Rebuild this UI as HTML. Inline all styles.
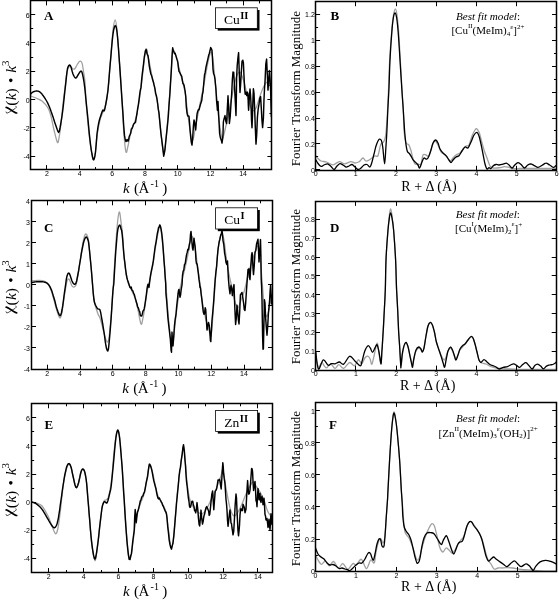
<!DOCTYPE html>
<html><head><meta charset="utf-8"><style>
html,body{margin:0;padding:0;background:#fff;}
svg{display:block;filter:grayscale(100%);}
</style></head><body>
<svg width="559" height="600" viewBox="0 0 559 600">
<rect width="559" height="600" fill="#fff"/>
<defs>
<clipPath id="cA"><rect x="30.7" y="0.9" width="241.20" height="168.70"/></clipPath>
<clipPath id="cC"><rect x="31.5" y="200.8" width="241.00" height="168.40"/></clipPath>
<clipPath id="cE"><rect x="31.65" y="403.8" width="241.25" height="168.70"/></clipPath>
<clipPath id="cB"><rect x="315.6" y="1.7" width="240.90" height="168.60"/></clipPath>
<clipPath id="cD"><rect x="315.5" y="201.4" width="240.70" height="168.70"/></clipPath>
<clipPath id="cF"><rect x="315.4" y="402.4" width="241.30" height="169.05"/></clipPath>
</defs>
<g clip-path="url(#cA)">
<path d="M30.7,96.0 C31.6,96.3 34.1,97.2 36.0,98.0 C37.9,98.8 40.0,99.3 42.0,101.0 C44.0,102.7 46.5,105.5 48.0,108.0 C49.5,110.5 50.0,112.3 51.0,116.0 C52.0,119.7 52.9,125.6 54.0,130.0 C55.1,134.4 56.6,141.1 57.4,142.4 C58.2,143.7 58.4,141.1 59.0,138.0 C59.6,134.9 60.3,129.7 61.0,124.0 C61.7,118.3 62.3,110.0 63.0,104.0 C63.7,98.0 64.3,93.3 65.0,88.0 C65.7,82.7 66.2,75.7 67.0,72.0 C67.8,68.3 68.8,66.8 69.5,66.0 C70.2,65.2 70.9,67.0 71.5,67.5 C72.1,68.0 72.6,68.8 73.2,69.0 C73.8,69.2 74.4,69.2 75.0,68.5 C75.6,67.8 76.3,66.1 77.0,65.0 C77.7,63.9 78.5,62.4 79.0,61.8 C79.5,61.2 79.9,61.2 80.3,61.2 C80.7,61.2 81.1,61.4 81.5,62.0 C81.9,62.6 82.2,63.4 82.5,65.0 C82.8,66.6 83.1,68.7 83.5,71.5 C83.9,74.3 84.6,77.2 85.0,82.0 C85.4,86.8 85.5,93.0 86.0,100.0 C86.5,107.0 87.3,117.0 88.0,124.0 C88.7,131.0 89.3,136.8 90.0,142.0 C90.7,147.2 91.4,152.0 92.0,155.0 C92.6,158.0 93.1,160.5 93.7,160.0 C94.3,159.5 95.0,156.0 95.5,152.0 C96.0,148.0 96.2,141.3 97.0,136.0 C97.8,130.7 99.0,124.0 100.0,120.0 C101.0,116.0 102.0,114.7 103.0,112.0 C104.0,109.3 105.2,107.7 106.0,104.0 C106.8,100.3 107.2,98.2 108.0,90.0 C108.8,81.8 110.2,65.0 111.0,55.0 C111.8,45.0 112.3,35.8 113.0,30.0 C113.7,24.2 114.5,20.0 115.2,20.0 C115.9,20.0 116.4,24.0 117.0,30.0 C117.6,36.0 118.2,44.3 119.0,56.0 C119.8,67.7 121.2,86.8 122.0,100.0 C122.8,113.2 123.3,126.3 124.0,135.0 C124.7,143.7 125.3,150.2 126.0,152.0 C126.7,153.8 127.3,148.7 128.0,146.0 C128.7,143.3 129.2,139.3 130.0,136.0 C130.8,132.7 132.0,129.0 133.0,126.0 C134.0,123.0 135.0,122.0 136.0,118.0 C137.0,114.0 138.0,108.3 139.0,102.0 C140.0,95.7 140.9,88.7 142.0,80.0 C143.1,71.3 144.6,54.0 145.6,50.0 C146.6,46.0 146.9,51.7 148.0,56.0 C149.1,60.3 150.7,69.7 152.0,76.0 C153.3,82.3 154.8,87.7 156.0,94.0 C157.2,100.3 158.2,107.3 159.0,114.0 C159.8,120.7 160.2,127.3 161.0,134.0 C161.8,140.7 163.0,151.7 163.7,154.0 C164.4,156.3 164.4,152.3 165.0,148.0 C165.6,143.7 166.3,135.3 167.0,128.0 C167.7,120.7 168.2,115.3 169.0,104.0 C169.8,92.7 171.3,69.0 172.0,60.0 C172.7,51.0 172.3,50.7 173.0,50.0 C173.7,49.3 174.8,52.3 176.0,56.0 C177.2,59.7 178.5,66.0 180.0,72.0 C181.5,78.0 183.7,84.7 185.0,92.0 C186.3,99.3 187.0,108.7 188.0,116.0 C189.0,123.3 190.2,132.0 191.0,136.0 C191.8,140.0 192.2,142.0 193.0,140.0 C193.8,138.0 194.8,130.0 196.0,124.0 C197.2,118.0 198.7,110.7 200.0,104.0 C201.3,97.3 202.7,91.0 204.0,84.0 C205.3,77.0 206.8,67.3 208.0,62.0 C209.2,56.7 210.2,52.3 211.0,52.0 C211.8,51.7 212.2,53.7 213.0,60.0 C213.8,66.3 215.0,80.0 216.0,90.0 C217.0,100.0 218.0,112.0 219.0,120.0 C220.0,128.0 221.2,135.7 222.0,138.0 C222.8,140.3 223.0,137.7 224.0,134.0 C225.0,130.3 226.7,122.3 228.0,116.0 C229.3,109.7 230.7,102.3 232.0,96.0 C233.3,89.7 234.7,82.0 236.0,78.0 C237.3,74.0 238.7,71.3 240.0,72.0 C241.3,72.7 242.7,77.7 244.0,82.0 C245.3,86.3 246.7,93.3 248.0,98.0 C249.3,102.7 250.7,108.3 252.0,110.0 C253.3,111.7 254.7,110.3 256.0,108.0 C257.3,105.7 258.7,99.7 260.0,96.0 C261.3,92.3 262.7,88.3 264.0,86.0 C265.3,83.7 266.7,81.7 268.0,82.0 C269.3,82.3 271.3,87.0 272.0,88.0" fill="none" stroke="#a0a0a0" stroke-width="1.3" stroke-linejoin="round" stroke-linecap="round"/>
<polyline points="30.7,94.0 31.2,93.4 32.0,92.7 33.0,92.0 33.7,91.7 34.5,91.4 35.3,91.1 36.2,91.0 37.0,91.0 37.8,91.1 38.6,91.3 39.3,91.7 40.1,92.2 41.0,93.0 41.7,93.7 42.4,94.7 43.2,95.7 43.9,96.8 44.7,97.9 45.4,99.0 46.0,100.0 46.9,101.5 47.6,102.9 48.3,104.4 49.0,106.0 49.8,107.9 50.6,110.0 51.3,112.1 52.0,114.0 52.7,116.1 53.4,118.1 54.0,120.0 54.6,122.0 55.3,124.0 56.0,126.0 56.6,127.8 57.3,129.8 58.0,131.6 58.6,132.4 59.3,131.4 60.0,128.0 60.6,124.6 61.3,120.3 62.0,116.0 62.8,110.1 63.5,104.0 64.2,97.4 65.0,90.0 65.7,83.8 66.4,77.2 67.0,72.0 67.5,68.5 68.0,67.0 68.7,65.6 69.5,65.0 70.2,65.4 71.0,67.0 71.6,69.1 72.3,71.7 73.0,74.0 73.6,75.4 74.3,76.6 75.0,77.6 75.7,78.0 76.5,77.6 77.2,76.3 78.0,75.0 78.7,73.9 79.5,72.6 80.3,71.5 81.0,71.0 81.8,71.8 82.5,74.0 83.2,77.4 84.0,82.0 84.8,88.1 85.5,95.0 86.2,102.4 87.0,110.0 87.8,117.5 88.5,125.0 89.2,132.6 90.0,140.0 90.6,145.0 91.3,150.0 92.0,154.0 92.6,157.0 93.1,159.2 93.7,159.8 94.3,158.6 94.9,155.9 95.5,152.0 96.3,143.1 97.0,134.0 97.8,128.2 98.5,124.0 99.2,120.8 100.0,118.0 100.7,115.9 101.4,113.7 102.0,112.0 102.6,110.6 103.0,110.0 103.5,110.6 104.0,111.0 104.5,110.1 105.0,108.0 105.7,104.4 106.5,100.0 107.2,95.6 108.0,90.0 108.8,81.4 109.5,72.0 110.2,63.7 111.0,55.0 111.6,47.8 112.3,40.2 113.0,34.0 113.7,29.7 114.5,26.8 115.2,25.6 115.8,26.0 116.4,28.0 117.0,32.0 117.7,38.8 118.4,47.5 119.0,56.0 119.8,67.1 120.5,77.6 121.3,89.7 122.0,100.4 122.5,107.4 123.0,114.3 123.5,122.8 124.0,129.5 124.5,135.4 125.0,138.2 125.5,140.5 126.0,141.6 126.5,141.0 127.0,139.5 127.4,140.1 128.0,141.3 128.6,139.6 129.3,136.2 130.0,134.8 130.7,133.0 131.3,129.1 132.0,128.4 132.7,126.8 133.4,124.6 134.0,123.7 134.8,122.9 135.5,122.3 136.2,117.8 137.0,113.5 137.6,108.9 138.3,105.1 139.0,100.1 139.7,94.4 140.3,90.2 141.0,87.4 141.6,80.4 142.3,73.7 143.0,68.3 143.6,63.3 144.3,57.0 145.0,53.4 145.6,50.1 146.4,49.7 147.0,53.6 147.5,54.8 148.0,55.7 148.6,60.2 149.3,66.1 150.0,69.9 150.7,73.4 151.3,74.9 152.0,77.1 152.7,80.1 153.4,82.0 154.0,84.7 154.5,86.6 155.0,89.2 155.6,93.4 156.3,95.5 157.0,98.9 157.7,104.0 158.3,109.2 159.0,113.1 159.7,120.8 160.4,127.9 161.0,134.0 161.8,140.1 162.5,145.8 163.1,150.9 163.7,156.2 164.3,153.1 165.0,149.3 165.6,143.0 166.3,136.3 167.0,129.7 167.7,123.0 168.4,115.1 169.0,105.3 169.8,95.2 170.5,83.8 171.3,71.0 172.0,56.7 172.4,51.0 172.7,47.8 173.3,50.7 174.0,52.2 174.6,53.7 175.1,53.2 175.7,55.1 176.4,57.4 177.0,59.5 177.5,60.5 178.0,63.9 178.4,67.7 179.0,71.3 179.6,72.2 180.3,73.6 181.0,75.2 181.7,76.2 182.3,80.0 183.0,83.7 183.7,84.2 184.3,86.5 185.0,90.5 185.7,95.8 186.3,106.6 187.0,113.0 187.7,115.9 188.4,115.9 189.0,116.4 189.5,122.1 190.0,129.3 190.6,136.0 191.3,142.3 192.0,145.1 192.7,137.6 193.4,126.0 194.0,120.0 194.6,122.3 195.2,127.3 195.7,129.9 196.3,122.5 197.0,114.4 197.6,111.7 198.3,109.7 199.0,109.8 199.7,107.3 200.3,104.9 201.0,102.7 201.7,100.8 202.4,94.7 203.0,92.2 203.8,82.7 204.5,75.0 205.2,72.2 206.0,67.2 206.6,64.4 207.3,61.3 208.0,58.3 208.7,55.2 209.3,53.4 210.0,50.8 210.7,47.5 211.4,48.8 212.0,50.6 212.5,58.8 213.0,69.1 213.6,73.7 214.3,75.3 215.0,79.2 215.9,88.8 216.6,101.0 217.1,106.2 217.4,110.3 217.7,106.5 218.0,101.4 218.4,110.6 219.0,121.3 219.6,133.3 220.4,137.8 221.0,139.4 221.6,141.3 222.0,143.1 222.5,139.7 223.0,134.4 223.2,126.7 223.4,121.7 224.1,118.6 225.0,115.6 225.8,121.2 226.6,123.6 227.3,109.1 228.0,95.7 228.7,108.8 229.4,123.5 230.2,116.7 231.0,103.6 231.7,93.3 232.4,79.1 233.0,72.1 233.7,72.3 234.4,84.3 235.2,99.7 236.0,115.6 236.3,100.7 236.6,78.1 237.2,65.5 237.9,58.2 238.6,52.6 239.3,73.6 240.0,92.5 240.6,84.8 241.4,71.0 242.0,61.5 242.8,60.2 243.4,62.9 244.0,76.1 244.6,88.2 245.2,94.2 246.0,92.1 246.7,95.6 247.4,92.1 248.0,94.0 248.3,104.8 248.6,110.3 249.3,98.1 250.0,88.9 250.5,94.8 251.0,103.8 251.5,120.0 252.0,127.7 252.5,115.1 253.0,97.9 253.4,88.8 254.0,93.0 254.6,107.6 255.3,127.5 256.0,144.1 256.7,134.6 257.4,117.4 258.2,108.8 259.0,104.3 259.8,98.4 260.6,96.6 261.3,108.2 262.0,120.8 262.6,127.6 263.4,118.3 264.0,99.2 264.5,88.8 265.0,82.1 265.8,64.2 266.6,59.1 267.3,74.0 268.0,90.1 268.7,80.5 269.4,70.6 270.0,78.2 270.6,89.6 271.0,104.8 271.4,116.8 271.8,115.8 272.0,108.8" fill="none" stroke="#000" stroke-width="1.45" stroke-linejoin="round" stroke-linecap="round"/>
</g>
<g clip-path="url(#cB)">
<path d="M315.8,156.0 C316.2,156.4 317.1,157.7 318.0,158.5 C318.9,159.3 319.6,160.4 321.0,161.0 C322.4,161.6 324.5,161.4 326.5,162.0 C328.5,162.6 330.9,164.9 333.0,164.8 C335.1,164.7 337.4,161.8 339.3,161.6 C341.2,161.4 342.8,163.8 344.7,163.8 C346.6,163.8 349.3,161.7 351.0,161.6 C352.7,161.5 353.7,162.9 355.0,163.0 C356.3,163.1 357.8,162.3 358.6,162.0 C359.4,161.7 359.3,161.7 360.0,161.0 C360.7,160.3 362.0,158.0 363.0,158.0 C364.0,158.0 365.0,160.7 366.0,161.0 C367.0,161.3 368.0,160.5 369.0,160.0 C370.0,159.5 371.0,158.7 372.0,158.0 C373.0,157.3 374.0,156.4 375.0,156.0 C376.0,155.6 377.1,157.5 378.0,155.6 C378.9,153.7 379.8,146.9 380.7,144.6 C381.6,142.3 382.7,143.4 383.5,142.0 C384.3,140.6 384.9,140.1 385.5,136.4 C386.1,132.7 386.5,127.7 387.0,120.0 C387.5,112.3 388.1,100.0 388.5,90.0 C388.9,80.0 389.1,70.0 389.7,60.0 C390.2,50.0 391.2,37.5 391.8,30.0 C392.4,22.5 392.9,18.5 393.5,15.0 C394.1,11.5 394.8,9.0 395.4,9.0 C396.0,9.0 396.5,11.5 397.0,15.0 C397.5,18.5 397.9,22.5 398.5,30.0 C399.1,37.5 399.7,50.0 400.3,60.0 C400.9,70.0 401.5,81.7 402.0,90.0 C402.5,98.3 403.0,103.3 403.3,110.0 C403.6,116.7 403.6,124.6 404.0,130.0 C404.4,135.4 405.2,140.2 406.0,142.6 C406.8,145.0 407.9,143.4 408.7,144.6 C409.5,145.8 410.1,147.8 410.8,150.0 C411.5,152.2 412.1,155.7 412.8,158.0 C413.5,160.3 414.0,162.8 414.9,163.8 C415.8,164.8 417.0,164.0 418.0,164.0 C419.0,164.0 420.2,165.5 421.0,164.0 C421.8,162.5 422.2,156.5 423.0,155.0 C423.8,153.5 425.0,154.8 426.0,155.0 C427.0,155.2 428.0,157.5 429.0,156.0 C430.0,154.5 431.0,148.5 432.0,146.0 C433.0,143.5 434.0,141.2 435.0,141.0 C436.0,140.8 437.0,143.2 438.0,145.0 C439.0,146.8 440.0,150.5 441.0,152.0 C442.0,153.5 443.0,153.2 444.0,154.0 C445.0,154.8 446.0,155.8 447.0,157.0 C448.0,158.2 449.0,160.8 450.0,161.0 C451.0,161.2 452.0,159.0 453.0,158.0 C454.0,157.0 454.8,155.8 456.0,155.0 C457.2,154.2 458.8,154.0 460.0,153.0 C461.2,152.0 462.0,150.2 463.0,149.0 C464.0,147.8 465.0,146.7 466.0,146.0 C467.0,145.3 468.0,146.7 469.0,145.0 C470.0,143.3 471.0,138.5 472.0,136.0 C473.0,133.5 474.2,131.2 475.0,130.0 C475.8,128.8 475.8,128.3 476.5,128.6 C477.2,128.9 478.2,130.3 479.0,132.0 C479.8,133.7 480.2,136.0 481.0,139.0 C481.8,142.0 483.0,146.8 484.0,150.0 C485.0,153.2 486.0,155.3 487.0,158.0 C488.0,160.7 489.0,164.3 490.0,166.0 C491.0,167.7 491.3,167.7 493.0,168.0 C494.7,168.3 498.1,167.9 500.0,167.7 C501.9,167.5 502.8,166.7 504.2,166.6 C505.6,166.5 507.1,166.9 508.4,167.2 C509.7,167.5 510.1,168.3 512.0,168.5 C513.9,168.7 517.0,168.5 520.0,168.5 C523.0,168.5 526.7,168.5 530.0,168.5 C533.3,168.5 535.5,168.5 540.0,168.5 C544.5,168.5 554.2,168.5 557.0,168.5" fill="none" stroke="#a0a0a0" stroke-width="1.3" stroke-linejoin="round" stroke-linecap="round"/>
<path d="M316.0,160.0 C316.3,160.6 317.2,162.4 318.0,163.5 C318.8,164.6 320.0,166.2 321.0,166.4 C322.0,166.7 322.9,165.4 324.0,165.0 C325.1,164.6 326.3,163.6 327.5,163.8 C328.7,164.1 329.9,165.6 331.0,166.5 C332.1,167.4 333.0,169.6 334.0,169.5 C335.0,169.4 336.0,167.0 337.0,166.0 C338.0,165.0 339.0,163.9 340.0,163.7 C341.0,163.5 342.0,164.4 343.0,165.0 C344.0,165.6 345.0,166.8 346.0,167.0 C347.0,167.2 348.0,166.4 349.0,166.0 C350.0,165.6 351.0,164.3 352.0,164.5 C353.0,164.7 354.0,166.2 355.0,167.0 C356.0,167.8 357.0,169.3 358.0,169.5 C359.0,169.7 360.0,168.8 361.0,168.0 C362.0,167.2 363.0,165.6 364.0,165.0 C365.0,164.4 366.0,164.2 367.0,164.5 C368.0,164.8 369.2,167.4 370.0,167.0 C370.8,166.6 371.3,164.2 372.0,162.0 C372.7,159.8 373.3,156.7 374.0,154.0 C374.7,151.3 375.3,148.2 376.0,146.0 C376.7,143.8 377.4,142.1 378.0,141.0 C378.6,139.9 378.8,139.3 379.4,139.2 C380.0,139.1 380.8,139.1 381.4,140.5 C382.0,141.9 382.3,143.5 382.8,147.4 C383.3,151.3 384.1,163.8 384.6,163.8 C385.1,163.8 385.5,152.9 385.9,147.4 C386.3,141.9 386.6,137.2 386.9,131.0 C387.2,124.8 387.5,117.3 387.8,110.5 C388.1,103.7 388.5,98.4 388.9,90.0 C389.3,81.6 389.5,70.0 390.0,60.0 C390.5,50.0 391.4,37.2 392.0,30.0 C392.6,22.8 393.0,19.8 393.5,17.0 C394.0,14.2 394.5,13.0 395.0,13.0 C395.5,13.0 396.0,14.2 396.5,17.0 C397.0,19.8 397.4,22.8 398.0,30.0 C398.6,37.2 399.4,50.0 400.0,60.0 C400.6,70.0 401.3,81.6 401.9,90.0 C402.4,98.4 402.9,103.7 403.3,110.5 C403.8,117.3 404.2,125.3 404.6,131.0 C405.1,136.7 405.5,141.2 406.0,144.6 C406.5,148.0 406.8,150.0 407.4,151.5 C408.0,153.0 408.7,152.6 409.4,153.5 C410.1,154.4 410.8,155.8 411.5,157.0 C412.2,158.2 412.7,159.4 413.5,160.4 C414.3,161.4 415.6,162.2 416.3,163.0 C417.1,163.8 417.4,164.2 418.0,165.0 C418.6,165.8 418.9,168.5 419.6,168.0 C420.3,167.5 421.3,163.7 422.0,162.0 C422.7,160.3 423.3,158.5 424.0,158.0 C424.7,157.5 425.3,159.0 426.0,159.0 C426.7,159.0 427.2,159.5 428.0,158.0 C428.8,156.5 430.2,152.5 431.0,150.0 C431.8,147.5 432.2,144.7 433.0,143.0 C433.8,141.3 434.8,140.0 435.6,140.0 C436.4,140.0 437.3,141.5 438.0,143.0 C438.7,144.5 439.2,147.3 440.0,149.0 C440.8,150.7 442.0,151.9 443.0,153.0 C444.0,154.1 445.0,154.5 446.0,155.7 C447.0,156.9 448.2,158.9 449.0,160.0 C449.8,161.1 450.3,162.5 451.0,162.5 C451.7,162.5 452.2,160.9 453.0,160.0 C453.8,159.1 455.0,157.7 456.0,157.0 C457.0,156.3 458.0,156.7 459.0,155.7 C460.0,154.7 461.0,152.4 462.0,151.0 C463.0,149.6 464.0,147.5 465.0,147.0 C466.0,146.5 467.0,148.8 468.0,148.0 C469.0,147.2 470.0,144.2 471.0,142.0 C472.0,139.8 473.0,136.6 474.0,135.0 C475.0,133.4 476.2,132.2 477.0,132.4 C477.8,132.6 478.3,134.1 479.0,136.0 C479.7,137.9 480.3,141.0 481.0,144.0 C481.7,147.0 482.3,150.7 483.0,154.0 C483.7,157.3 484.3,161.5 485.0,164.0 C485.7,166.5 486.3,168.4 487.0,169.0 C487.7,169.6 488.3,167.8 489.0,167.7 C489.7,167.6 490.3,168.8 491.0,168.5 C491.7,168.2 492.2,166.7 493.0,166.0 C493.8,165.3 495.0,164.7 496.0,164.5 C497.0,164.3 497.8,165.1 499.0,165.0 C500.2,164.9 502.0,164.5 503.2,164.2 C504.4,163.9 505.3,163.1 506.3,163.2 C507.3,163.3 508.0,164.2 509.0,165.0 C510.0,165.8 511.1,168.0 512.1,168.0 C513.1,168.0 513.8,165.9 514.8,165.0 C515.8,164.1 517.0,162.8 518.0,162.7 C519.0,162.6 520.1,163.6 521.1,164.5 C522.1,165.4 523.2,167.9 524.3,168.0 C525.4,168.1 526.5,166.0 527.5,165.3 C528.5,164.6 529.5,163.8 530.6,163.8 C531.7,163.9 533.1,165.0 534.3,165.6 C535.5,166.2 536.7,167.4 538.0,167.4 C539.3,167.4 540.9,166.0 542.2,165.3 C543.5,164.6 544.7,163.2 545.9,163.2 C547.1,163.1 548.4,164.3 549.6,165.0 C550.8,165.7 552.3,167.2 553.3,167.4 C554.3,167.6 554.8,166.5 555.4,166.1 C556.0,165.7 556.7,165.2 557.0,165.0" fill="none" stroke="#000" stroke-width="1.3" stroke-linejoin="round" stroke-linecap="round"/>
</g>
<g clip-path="url(#cC)">
<path d="M31.2,281.0 C32.3,280.9 35.9,280.5 38.0,280.5 C40.1,280.5 42.3,280.4 44.0,281.0 C45.7,281.6 46.8,282.5 48.0,284.0 C49.2,285.5 50.0,287.3 51.0,290.0 C52.0,292.7 53.0,296.5 54.0,300.0 C55.0,303.5 56.0,308.0 57.0,311.0 C58.0,314.0 59.2,317.8 60.0,318.0 C60.8,318.2 61.3,315.3 62.0,312.0 C62.7,308.7 63.4,302.0 64.0,298.0 C64.6,294.0 65.2,290.8 65.7,288.0 C66.2,285.2 66.5,282.5 67.0,281.0 C67.5,279.5 68.2,279.0 68.7,279.0 C69.2,279.0 69.5,279.8 70.0,281.0 C70.5,282.2 71.3,285.0 72.0,286.0 C72.7,287.0 73.3,287.2 74.0,287.0 C74.7,286.8 75.3,287.0 76.0,285.0 C76.7,283.0 77.3,278.8 78.0,275.0 C78.7,271.2 79.3,266.5 80.0,262.0 C80.7,257.5 81.3,252.0 82.0,248.0 C82.7,244.0 83.4,240.3 84.0,238.0 C84.6,235.7 85.0,234.0 85.7,234.0 C86.4,234.0 87.5,236.2 88.0,238.0 C88.5,239.8 88.5,240.3 89.0,245.0 C89.5,249.7 90.4,259.5 91.0,266.0 C91.6,272.5 92.0,278.3 92.5,284.0 C93.0,289.7 93.4,296.0 94.0,300.0 C94.6,304.0 95.3,305.7 96.0,308.0 C96.7,310.3 97.3,312.3 98.0,314.0 C98.7,315.7 99.3,316.2 100.0,318.0 C100.7,319.8 101.3,322.5 102.0,325.0 C102.7,327.5 103.3,330.5 104.0,333.0 C104.7,335.5 105.4,338.5 106.0,340.0 C106.6,341.5 107.0,342.3 107.5,342.0 C108.0,341.7 108.4,342.0 109.0,338.0 C109.6,334.0 110.3,326.0 111.0,318.0 C111.7,310.0 112.3,300.0 113.0,290.0 C113.7,280.0 114.3,268.3 115.0,258.0 C115.7,247.7 116.3,235.7 117.0,228.0 C117.7,220.3 118.5,213.0 119.2,212.0 C119.9,211.0 120.5,218.3 121.0,222.0 C121.5,225.7 122.0,228.0 122.5,234.0 C123.0,240.0 123.6,251.3 124.2,258.0 C124.8,264.7 125.5,269.8 126.2,274.0 C126.9,278.2 127.4,280.5 128.2,283.0 C129.0,285.5 129.9,286.5 131.0,289.0 C132.1,291.5 133.8,294.5 135.0,298.0 C136.2,301.5 137.0,305.7 138.0,310.0 C139.0,314.3 140.2,322.7 141.0,324.0 C141.8,325.3 142.3,321.0 143.0,318.0 C143.7,315.0 144.3,310.3 145.0,306.0 C145.7,301.7 146.2,296.5 147.0,292.0 C147.8,287.5 149.0,283.7 150.0,279.0 C151.0,274.3 152.0,269.8 153.0,264.0 C154.0,258.2 154.9,250.3 156.0,244.0 C157.1,237.7 158.9,228.3 159.7,226.0 C160.5,223.7 160.4,226.3 161.0,230.0 C161.6,233.7 162.3,241.0 163.0,248.0 C163.7,255.0 164.3,263.3 165.0,272.0 C165.7,280.7 166.3,291.3 167.0,300.0 C167.7,308.7 168.3,317.0 169.0,324.0 C169.7,331.0 170.4,338.7 171.0,342.0 C171.6,345.3 172.0,345.3 172.5,344.0 C173.0,342.7 173.4,338.7 174.0,334.0 C174.6,329.3 175.2,322.7 176.0,316.0 C176.8,309.3 178.0,300.0 179.0,294.0 C180.0,288.0 181.0,284.3 182.0,280.0 C183.0,275.7 184.0,272.3 185.0,268.0 C186.0,263.7 187.0,259.0 188.0,254.0 C189.0,249.0 190.2,240.7 191.0,238.0 C191.8,235.3 192.3,236.3 193.0,238.0 C193.7,239.7 194.3,244.0 195.0,248.0 C195.7,252.0 196.2,256.0 197.0,262.0 C197.8,268.0 199.0,276.7 200.0,284.0 C201.0,291.3 202.0,300.0 203.0,306.0 C204.0,312.0 205.0,316.0 206.0,320.0 C207.0,324.0 208.2,327.3 209.0,330.0 C209.8,332.7 210.3,336.3 210.8,336.0 C211.3,335.7 211.5,334.0 212.0,328.0 C212.5,322.0 213.3,309.3 214.0,300.0 C214.7,290.7 215.3,280.3 216.0,272.0 C216.7,263.7 217.3,255.7 218.0,250.0 C218.7,244.3 219.3,240.7 220.0,238.0 C220.7,235.3 221.3,233.7 222.0,234.0 C222.7,234.3 223.3,236.3 224.0,240.0 C224.7,243.7 225.2,250.3 226.0,256.0 C226.8,261.7 228.0,268.7 229.0,274.0 C230.0,279.3 231.0,283.3 232.0,288.0 C233.0,292.7 234.0,298.7 235.0,302.0 C236.0,305.3 237.0,308.3 238.0,308.0 C239.0,307.7 240.0,302.7 241.0,300.0 C242.0,297.3 243.0,295.3 244.0,292.0 C245.0,288.7 246.0,284.0 247.0,280.0 C248.0,276.0 249.0,271.7 250.0,268.0 C251.0,264.3 252.0,261.0 253.0,258.0 C254.0,255.0 255.2,252.0 256.0,250.0 C256.8,248.0 257.3,245.0 258.0,246.0 C258.7,247.0 259.3,250.3 260.0,256.0 C260.7,261.7 261.3,272.0 262.0,280.0 C262.7,288.0 263.3,298.0 264.0,304.0 C264.7,310.0 265.3,314.3 266.0,316.0 C266.7,317.7 267.3,316.0 268.0,314.0 C268.7,312.0 269.2,307.0 270.0,304.0 C270.8,301.0 272.1,297.3 272.5,296.0" fill="none" stroke="#a0a0a0" stroke-width="1.3" stroke-linejoin="round" stroke-linecap="round"/>
<polyline points="31.2,282.5 31.7,282.4 32.3,282.4 33.0,282.3 33.8,282.1 34.7,282.0 35.5,281.9 36.4,281.8 37.2,281.7 38.0,281.7 38.8,281.7 39.6,281.7 40.4,281.7 41.2,281.7 41.9,281.7 42.7,281.8 43.4,281.9 44.0,282.0 44.9,282.2 45.8,282.5 46.6,282.9 47.3,283.4 48.0,284.0 48.8,284.9 49.6,286.1 50.3,287.4 51.0,289.0 51.8,290.9 52.5,293.1 53.2,295.5 54.0,298.0 54.8,300.7 55.5,303.6 56.2,306.5 57.0,309.0 57.8,311.3 58.6,313.4 59.3,315.0 60.0,315.7 60.7,315.0 61.4,313.0 62.0,310.0 62.7,305.9 63.4,300.8 64.0,296.0 64.6,291.7 65.2,287.6 65.7,284.0 66.3,279.4 67.0,276.0 67.6,274.4 68.1,273.4 68.7,273.0 69.3,273.4 70.0,275.0 70.6,276.8 71.3,279.1 72.0,281.0 72.7,282.4 73.3,283.4 74.0,284.0 74.7,284.3 75.3,284.1 76.0,283.0 76.7,280.7 77.3,277.5 78.0,274.0 78.7,270.2 79.3,266.1 80.0,262.0 80.7,257.9 81.3,253.8 82.0,250.0 82.7,246.6 83.3,243.5 84.0,241.0 84.7,239.0 85.4,237.6 86.1,237.0 86.8,237.4 87.4,238.5 88.0,240.0 88.5,241.9 89.0,246.0 89.6,251.7 90.3,259.0 91.0,266.0 91.8,275.2 92.5,284.0 93.2,292.8 94.0,300.0 94.6,302.9 95.3,304.6 96.0,306.0 96.7,307.3 97.3,308.3 98.0,309.0 98.7,309.1 99.3,309.1 100.0,310.0 100.7,312.6 101.3,316.2 102.0,320.0 102.7,323.8 103.3,327.8 104.0,332.0 104.7,336.9 105.3,341.9 106.0,346.0 106.6,348.8 107.3,350.6 107.8,351.0 108.4,349.3 109.0,344.0 109.6,337.5 110.3,329.1 111.0,320.0 111.7,309.6 112.4,298.4 113.0,290.0 113.4,286.6 113.8,284.0 114.4,273.2 115.2,260.0 115.8,250.8 116.6,241.3 117.2,234.0 117.9,229.0 118.5,227.0 119.2,225.4 119.8,225.0 120.4,226.0 121.0,228.9 121.6,230.2 122.2,234.6 122.8,240.9 123.5,250.5 124.2,257.8 124.9,263.2 125.5,268.6 126.2,274.0 126.9,277.5 127.5,279.9 128.2,282.1 128.8,283.8 129.5,285.9 130.0,287.4 130.6,287.9 131.2,287.0 131.7,289.5 132.4,290.6 133.0,291.1 133.7,293.6 134.3,294.3 135.0,297.2 135.7,299.6 136.3,301.7 137.0,304.0 137.7,307.1 138.3,307.8 139.0,310.3 139.7,311.6 140.3,315.3 141.0,316.0 141.7,316.1 142.3,314.1 143.0,311.0 143.7,310.3 144.3,308.4 145.0,304.0 145.7,299.4 146.4,294.3 147.0,289.0 147.6,285.7 148.0,284.2 148.5,286.2 149.0,287.4 149.4,284.0 150.0,279.2 150.6,274.9 151.3,271.2 152.0,267.9 152.7,264.5 153.3,260.9 154.0,255.5 154.7,250.0 155.3,245.9 156.0,242.3 156.7,237.5 157.4,233.2 158.0,230.6 158.6,227.3 159.2,227.0 159.7,224.9 160.4,226.2 161.0,228.7 161.7,232.8 162.5,240.2 163.2,248.9 164.0,260.6 164.6,268.0 165.2,277.6 165.7,283.8 165.8,288.1 166.0,294.4 166.6,300.3 167.3,309.5 168.0,318.7 168.6,324.2 169.2,329.2 169.7,333.7 170.3,338.6 170.7,344.5 171.1,350.3 171.5,352.2 171.7,341.4 172.0,332.1 172.4,339.7 173.0,345.9 173.7,337.4 174.5,325.3 175.2,319.2 176.0,314.3 176.7,306.1 177.4,299.8 178.0,293.7 178.6,290.1 179.0,289.4 179.5,294.1 180.0,297.2 180.5,295.4 181.2,289.4 181.7,286.7 182.1,284.0 182.5,275.3 183.1,271.4 183.8,270.0 184.5,264.5 185.2,263.7 185.8,259.7 186.5,254.9 187.2,252.4 187.9,249.2 188.5,249.8 189.3,244.6 190.0,241.6 190.5,234.4 191.0,231.4 191.5,237.0 192.0,243.1 192.5,248.1 193.0,250.1 193.5,244.5 194.0,238.2 194.5,242.5 195.0,245.3 195.5,251.6 196.0,260.4 196.5,263.6 197.1,264.1 197.7,268.7 198.4,273.8 199.0,279.4 199.6,283.3 200.0,287.4 200.2,286.8 200.5,287.9 201.2,294.5 202.0,300.7 202.6,306.3 203.3,312.1 204.0,314.3 204.6,313.2 205.2,307.8 205.7,309.4 206.4,319.9 207.0,330.0 207.7,326.4 208.5,322.4 209.3,325.5 210.0,334.3 210.4,340.4 210.8,341.6 211.3,331.9 212.0,320.2 212.6,314.0 213.2,307.2 213.8,299.7 214.5,288.8 215.2,279.2 215.9,272.2 216.6,266.9 217.3,257.5 218.0,249.7 218.6,245.5 219.2,241.8 219.8,239.7 220.4,236.6 221.0,234.3 221.5,233.2 222.0,230.4 222.5,234.3 223.0,240.6 223.8,244.6 224.6,253.1 225.3,256.7 226.0,262.4 226.8,264.5 227.5,261.0 227.9,269.6 228.4,278.8 229.2,287.9 230.0,293.8 230.5,288.5 231.0,285.3 231.7,289.3 232.4,295.6 233.2,288.2 234.0,284.6 234.8,307.5 235.6,324.5 236.3,318.1 237.0,305.1 237.6,310.1 238.4,320.2 239.0,324.0 239.7,312.3 240.4,294.8 241.2,293.7 242.0,292.4 242.8,297.7 243.6,303.1 244.3,309.6 245.0,310.5 245.7,302.6 246.4,291.6 247.2,280.0 248.0,269.6 248.5,271.6 249.0,268.6 249.5,277.3 250.0,279.6 250.8,266.3 251.6,254.6 252.1,252.6 252.5,256.9 253.0,268.7 253.5,274.6 254.2,266.2 255.0,252.6 255.8,250.2 256.5,244.3 257.3,241.4 258.0,239.2 258.5,250.1 259.0,261.9 259.8,250.8 260.5,239.6 260.9,255.4 261.2,278.8 261.6,286.2 262.0,299.6 262.3,318.3 262.6,335.7 263.0,349.3 263.4,348.7 263.9,325.0 264.4,299.7 265.0,303.2 265.6,317.3 266.3,327.1 267.0,335.3 267.7,326.4 268.4,313.4 269.0,307.1 269.6,300.6 270.1,291.4 270.6,285.3 271.1,293.9 271.6,304.0 272.1,299.9 272.5,295.3" fill="none" stroke="#000" stroke-width="1.45" stroke-linejoin="round" stroke-linecap="round"/>
</g>
<g clip-path="url(#cD)">
<path d="M315.5,356.0 C316.0,357.8 317.4,365.9 318.4,367.0 C319.4,368.1 320.8,362.8 321.7,362.5 C322.6,362.2 323.2,364.6 324.0,365.5 C324.8,366.4 325.4,368.1 326.5,367.9 C327.6,367.7 329.4,364.0 330.8,364.1 C332.2,364.2 333.7,368.3 335.0,368.4 C336.3,368.5 337.4,364.7 338.8,364.7 C340.2,364.7 341.9,368.8 343.7,368.4 C345.5,368.0 347.8,362.9 349.6,362.5 C351.4,362.1 353.0,366.2 354.4,365.8 C355.8,365.4 357.2,360.6 358.1,359.9 C359.0,359.2 359.4,360.9 360.0,361.5 C360.6,362.1 361.2,364.2 362.0,363.6 C362.8,363.0 363.9,359.2 364.8,358.0 C365.7,356.8 366.7,356.1 367.6,356.2 C368.5,356.3 369.3,357.3 370.0,358.7 C370.7,360.1 371.2,364.6 371.8,364.3 C372.4,364.0 373.0,360.1 373.9,356.6 C374.8,353.1 376.2,344.4 377.0,343.3 C377.8,342.2 377.9,346.7 378.5,350.0 C379.1,353.3 380.0,361.0 380.5,363.0 C381.0,365.0 381.0,364.6 381.3,362.0 C381.6,359.4 381.9,352.6 382.2,347.4 C382.5,342.2 382.8,337.1 383.2,331.0 C383.6,324.9 383.9,317.3 384.3,310.5 C384.7,303.7 385.0,298.4 385.3,290.0 C385.6,281.6 385.6,270.0 386.0,260.0 C386.4,250.0 387.4,237.7 388.0,230.0 C388.6,222.3 389.1,217.5 389.5,214.0 C389.9,210.5 390.2,209.0 390.6,209.0 C391.0,209.0 391.3,210.5 391.8,214.0 C392.3,217.5 393.0,222.3 393.6,230.0 C394.2,237.7 395.1,250.0 395.6,260.0 C396.1,270.0 396.2,281.6 396.6,290.0 C397.0,298.4 397.4,303.7 397.7,310.5 C398.0,317.3 398.3,324.9 398.6,331.0 C398.9,337.1 399.4,342.1 399.7,347.4 C400.0,352.7 400.4,360.2 400.7,363.0 C401.0,365.8 401.2,365.8 401.5,364.0 C401.8,362.2 402.0,355.5 402.7,352.0 C403.4,348.5 404.6,344.0 405.5,343.0 C406.4,342.0 407.1,344.2 407.8,346.0 C408.5,347.8 409.0,351.3 409.6,354.0 C410.2,356.7 411.1,360.3 411.6,362.0 C412.1,363.7 412.2,364.7 412.6,364.0 C413.0,363.3 413.4,360.2 414.0,358.0 C414.6,355.8 415.2,352.7 416.0,351.0 C416.8,349.3 418.0,348.2 418.8,348.0 C419.6,347.8 420.4,349.3 421.0,350.0 C421.6,350.7 421.9,352.3 422.4,352.0 C422.9,351.7 423.4,350.7 424.0,348.0 C424.6,345.3 425.3,339.7 426.0,336.0 C426.7,332.3 427.3,328.3 428.0,326.0 C428.7,323.7 429.7,322.6 430.4,322.4 C431.1,322.2 431.7,323.4 432.4,325.0 C433.1,326.6 433.7,329.2 434.4,332.0 C435.1,334.8 435.6,339.0 436.4,342.0 C437.2,345.0 438.2,347.8 439.0,350.0 C439.8,352.2 440.3,353.5 441.0,355.0 C441.7,356.5 442.4,358.2 443.0,359.0 C443.6,359.8 443.9,360.3 444.4,360.0 C444.9,359.7 445.4,358.5 446.0,357.0 C446.6,355.5 447.2,352.5 448.0,351.0 C448.8,349.5 449.8,348.0 450.5,348.0 C451.2,348.0 451.8,349.3 452.5,351.0 C453.2,352.7 454.4,356.7 455.0,358.0 C455.6,359.3 455.5,359.5 456.0,359.0 C456.5,358.5 457.3,356.5 458.0,355.0 C458.7,353.5 459.2,351.3 460.0,350.0 C460.8,348.7 461.7,348.0 462.5,347.0 C463.3,346.0 464.1,345.2 465.0,344.0 C465.9,342.8 467.0,341.2 468.0,340.0 C469.0,338.8 470.2,337.3 471.0,337.0 C471.8,336.7 472.3,336.8 473.0,338.0 C473.7,339.2 474.3,341.7 475.0,344.0 C475.7,346.3 476.3,349.3 477.0,352.0 C477.7,354.7 478.2,358.2 479.0,360.0 C479.8,361.8 480.8,362.3 482.0,363.0 C483.2,363.7 484.3,363.3 486.0,364.0 C487.7,364.7 489.7,366.2 492.0,367.0 C494.3,367.8 497.0,368.2 500.0,368.5 C503.0,368.8 506.7,368.9 510.0,369.0 C513.3,369.1 516.7,369.2 520.0,369.3 C523.3,369.4 524.0,369.3 530.0,369.3 C536.0,369.3 551.7,369.3 556.0,369.3" fill="none" stroke="#a0a0a0" stroke-width="1.3" stroke-linejoin="round" stroke-linecap="round"/>
<path d="M315.8,351.8 C316.2,354.7 317.1,367.6 318.4,369.0 C319.6,370.4 321.7,360.5 323.3,359.9 C324.9,359.3 326.8,364.6 328.1,365.2 C329.4,365.8 330.2,363.8 331.3,363.6 C332.4,363.4 333.6,364.1 335.0,363.8 C336.4,363.5 337.9,361.9 339.4,362.0 C340.8,362.1 342.0,365.1 343.7,364.1 C345.4,363.2 347.7,356.8 349.6,356.3 C351.5,355.8 353.1,359.3 354.9,360.9 C356.7,362.5 359.1,365.7 360.3,365.8 C361.5,365.9 361.2,364.0 362.0,361.5 C362.8,359.0 363.8,353.6 364.8,351.0 C365.8,348.4 367.1,346.2 368.0,345.7 C368.9,345.2 369.6,347.1 370.4,348.2 C371.1,349.3 371.8,352.4 372.5,352.4 C373.2,352.4 374.1,349.5 374.9,348.2 C375.6,346.9 376.4,344.2 377.0,344.7 C377.6,345.2 378.2,348.2 378.8,351.0 C379.4,353.8 380.1,359.5 380.5,361.5 C380.9,363.5 381.0,364.6 381.2,362.9 C381.4,361.1 381.7,353.6 381.9,351.0 C382.1,348.4 382.0,350.7 382.2,347.4 C382.4,344.1 382.8,337.1 383.2,331.0 C383.6,324.9 383.9,317.3 384.3,310.5 C384.7,303.7 385.0,298.4 385.3,290.0 C385.6,281.6 385.6,270.0 386.0,260.0 C386.4,250.0 387.4,237.2 388.0,230.0 C388.6,222.8 389.1,219.8 389.5,217.0 C389.9,214.2 390.2,213.0 390.6,213.0 C391.0,213.0 391.3,214.2 391.8,217.0 C392.3,219.8 393.0,222.8 393.6,230.0 C394.2,237.2 395.1,250.0 395.6,260.0 C396.1,270.0 396.2,281.6 396.6,290.0 C397.0,298.4 397.4,303.7 397.7,310.5 C398.0,317.3 398.3,324.9 398.6,331.0 C398.9,337.1 399.4,341.7 399.7,347.4 C400.0,353.1 400.5,361.8 400.7,365.0 C400.9,368.2 400.7,368.8 401.0,366.5 C401.3,364.2 401.9,355.5 402.7,351.5 C403.4,347.5 404.6,343.5 405.5,342.6 C406.4,341.7 407.1,344.1 407.8,346.0 C408.5,347.9 409.0,351.2 409.6,354.2 C410.2,357.2 411.1,361.7 411.6,363.8 C412.1,365.9 412.2,368.0 412.6,367.0 C413.0,366.0 413.4,360.8 414.0,358.0 C414.6,355.2 415.2,351.8 416.0,350.0 C416.8,348.2 418.0,347.2 418.8,347.0 C419.6,346.8 420.4,348.2 421.0,349.0 C421.6,349.8 421.9,352.2 422.4,352.0 C422.9,351.8 423.4,350.7 424.0,348.0 C424.6,345.3 425.3,339.7 426.0,336.0 C426.7,332.3 427.3,328.3 428.0,326.0 C428.7,323.7 429.7,322.6 430.4,322.4 C431.1,322.2 431.7,323.4 432.4,325.0 C433.1,326.6 433.7,329.2 434.4,332.0 C435.1,334.8 435.6,339.0 436.4,342.0 C437.2,345.0 438.2,347.7 439.0,350.0 C439.8,352.3 440.3,353.9 441.0,356.0 C441.7,358.1 442.4,360.6 443.0,362.5 C443.6,364.4 444.1,367.6 444.6,367.3 C445.1,367.0 445.4,363.2 446.0,360.5 C446.6,357.8 447.2,353.2 448.0,351.0 C448.8,348.8 449.8,347.2 450.5,347.0 C451.2,346.8 451.8,348.5 452.5,350.0 C453.2,351.5 453.9,354.3 454.5,356.0 C455.1,357.7 455.4,360.2 456.0,360.0 C456.6,359.8 457.3,356.8 458.0,355.0 C458.7,353.2 459.2,350.6 460.0,349.0 C460.8,347.4 461.7,346.5 462.5,345.7 C463.3,344.9 464.1,344.9 465.0,344.0 C465.9,343.1 467.0,341.2 468.0,340.0 C469.0,338.8 470.2,336.8 471.0,336.5 C471.8,336.2 472.3,336.8 473.0,338.0 C473.7,339.2 474.3,341.7 475.0,344.0 C475.7,346.3 476.3,349.3 477.0,352.0 C477.7,354.7 478.3,358.2 479.0,360.0 C479.7,361.8 480.2,362.6 481.0,362.5 C481.8,362.4 483.0,359.8 484.0,359.7 C485.0,359.6 486.0,361.2 487.0,362.0 C488.0,362.8 489.0,363.9 490.0,364.5 C491.0,365.1 492.0,365.3 493.0,365.7 C494.0,366.1 495.0,366.4 496.0,367.0 C497.0,367.6 497.8,368.9 499.0,369.0 C500.2,369.1 501.8,367.8 503.2,367.4 C504.6,367.0 506.2,367.0 507.4,366.6 C508.6,366.2 509.6,365.5 510.6,365.0 C511.7,364.5 512.7,363.7 513.7,363.8 C514.8,363.9 515.9,365.0 516.9,365.6 C517.9,366.2 518.5,367.6 519.5,367.4 C520.5,367.2 521.6,365.3 522.7,364.5 C523.8,363.7 524.9,362.5 525.9,362.7 C526.9,362.9 528.0,364.6 529.0,365.6 C530.0,366.7 531.2,369.0 532.2,369.0 C533.2,369.0 533.9,366.4 534.8,365.6 C535.7,364.8 536.5,364.1 537.5,364.2 C538.5,364.3 539.7,365.3 540.7,366.1 C541.7,366.9 542.3,368.8 543.3,368.8 C544.3,368.8 545.5,366.7 546.5,366.1 C547.5,365.5 548.6,365.3 549.6,365.0 C550.6,364.7 551.8,364.8 552.8,364.5 C553.8,364.2 554.8,363.4 555.4,363.0 C556.0,362.6 556.1,362.2 556.2,362.0" fill="none" stroke="#000" stroke-width="1.3" stroke-linejoin="round" stroke-linecap="round"/>
</g>
<g clip-path="url(#cE)">
<path d="M31.4,501.7 C32.2,501.9 34.2,502.3 36.0,503.0 C37.8,503.7 40.0,503.8 42.0,506.0 C44.0,508.2 46.3,512.7 48.0,516.0 C49.7,519.3 50.7,523.0 52.0,526.0 C53.3,529.0 54.6,533.5 55.6,533.8 C56.6,534.1 57.3,531.3 58.0,528.0 C58.7,524.7 59.3,519.3 60.0,514.0 C60.7,508.7 61.3,501.7 62.0,496.0 C62.7,490.3 63.2,484.8 64.0,480.0 C64.8,475.2 66.2,469.7 67.0,467.0 C67.8,464.3 68.3,464.0 69.0,464.0 C69.7,464.0 70.3,465.0 71.0,467.0 C71.7,469.0 72.2,472.7 73.0,476.0 C73.8,479.3 75.1,485.8 76.0,487.0 C76.9,488.2 77.7,485.5 78.5,483.0 C79.3,480.5 80.2,474.3 81.0,472.0 C81.8,469.7 82.3,468.8 83.0,469.0 C83.7,469.2 84.4,470.5 85.0,473.0 C85.6,475.5 86.2,479.5 86.7,484.0 C87.2,488.5 87.5,493.3 88.0,500.0 C88.5,506.7 89.3,516.3 90.0,524.0 C90.7,531.7 91.2,540.0 92.0,546.0 C92.8,552.0 94.0,558.2 94.7,560.0 C95.4,561.8 95.5,559.8 96.0,557.0 C96.5,554.2 97.3,548.3 98.0,543.0 C98.7,537.7 99.3,530.8 100.0,525.0 C100.7,519.2 101.3,512.0 102.0,508.0 C102.7,504.0 103.3,502.3 104.0,501.0 C104.7,499.7 105.3,500.5 106.0,500.0 C106.7,499.5 107.3,499.7 108.0,498.0 C108.7,496.3 109.3,493.7 110.0,490.0 C110.7,486.3 111.3,482.3 112.0,476.0 C112.7,469.7 113.3,458.7 114.0,452.0 C114.7,445.3 115.4,439.7 116.0,436.0 C116.6,432.3 117.2,430.0 117.8,430.0 C118.4,430.0 119.0,432.3 119.5,436.0 C120.0,439.7 120.4,444.7 121.0,452.0 C121.6,459.3 122.3,470.0 123.0,480.0 C123.7,490.0 124.3,502.0 125.0,512.0 C125.7,522.0 126.3,532.3 127.0,540.0 C127.7,547.7 128.3,555.3 129.0,558.0 C129.7,560.7 130.3,558.7 131.0,556.0 C131.7,553.3 132.3,547.0 133.0,542.0 C133.7,537.0 134.3,530.7 135.0,526.0 C135.7,521.3 136.3,517.0 137.0,514.0 C137.7,511.0 138.3,510.0 139.0,508.0 C139.7,506.0 140.2,504.3 141.0,502.0 C141.8,499.7 143.0,498.0 144.0,494.0 C145.0,490.0 146.1,482.8 147.0,478.0 C147.9,473.2 148.8,466.3 149.6,465.0 C150.4,463.7 151.1,466.8 152.0,470.0 C152.9,473.2 154.0,479.7 155.0,484.0 C156.0,488.3 156.8,492.8 158.0,496.0 C159.2,499.2 160.7,500.3 162.0,503.0 C163.3,505.7 165.0,508.2 166.0,512.0 C167.0,515.8 167.3,521.0 168.0,526.0 C168.7,531.0 169.4,538.3 170.0,542.0 C170.6,545.7 171.0,548.0 171.5,548.0 C172.0,548.0 172.4,546.3 173.0,542.0 C173.6,537.7 174.3,529.7 175.0,522.0 C175.7,514.3 176.3,503.3 177.0,496.0 C177.7,488.7 178.3,483.7 179.0,478.0 C179.7,472.3 180.2,467.2 181.0,462.0 C181.8,456.8 182.8,447.7 183.5,447.0 C184.2,446.3 184.4,452.2 185.0,458.0 C185.6,463.8 186.2,475.0 187.0,482.0 C187.8,489.0 188.8,495.7 190.0,500.0 C191.2,504.3 192.7,506.0 194.0,508.0 C195.3,510.0 196.7,511.0 198.0,512.0 C199.3,513.0 200.7,514.3 202.0,514.0 C203.3,513.7 204.7,512.0 206.0,510.0 C207.3,508.0 208.7,504.7 210.0,502.0 C211.3,499.3 212.7,497.0 214.0,494.0 C215.3,491.0 216.8,487.0 218.0,484.0 C219.2,481.0 220.2,478.3 221.0,476.0 C221.8,473.7 222.2,468.0 223.0,470.0 C223.8,472.0 224.8,481.7 226.0,488.0 C227.2,494.3 228.7,503.3 230.0,508.0 C231.3,512.7 232.7,515.3 234.0,516.0 C235.3,516.7 236.7,514.0 238.0,512.0 C239.3,510.0 240.7,507.0 242.0,504.0 C243.3,501.0 244.7,497.0 246.0,494.0 C247.3,491.0 248.8,488.0 250.0,486.0 C251.2,484.0 252.0,482.0 253.0,482.0 C254.0,482.0 254.8,484.3 256.0,486.0 C257.2,487.7 258.7,489.7 260.0,492.0 C261.3,494.3 262.7,496.7 264.0,500.0 C265.3,503.3 266.5,509.0 268.0,512.0 C269.5,515.0 272.1,517.0 272.9,518.0" fill="none" stroke="#a0a0a0" stroke-width="1.3" stroke-linejoin="round" stroke-linecap="round"/>
<polyline points="31.4,502.0 31.9,502.2 32.6,502.3 33.4,502.6 34.3,502.9 35.2,503.2 36.0,503.7 36.7,504.2 37.4,504.7 38.2,505.3 38.9,505.9 39.6,506.6 40.3,507.3 41.0,508.0 41.9,509.1 42.7,510.2 43.4,511.4 44.2,512.7 45.0,514.0 45.8,515.4 46.6,516.8 47.5,518.3 48.3,519.7 49.0,521.0 49.8,522.4 50.6,523.7 51.3,524.8 52.0,525.7 52.8,526.8 53.6,527.6 54.4,527.8 55.0,527.4 55.7,526.7 56.4,525.5 57.0,524.0 57.7,521.3 58.4,517.9 59.0,514.0 59.7,509.6 60.3,504.8 61.0,500.0 61.7,495.3 62.3,490.5 63.0,486.0 63.7,481.7 64.3,477.6 65.0,474.0 65.7,470.8 66.3,468.1 67.0,466.0 67.7,464.6 68.3,463.8 69.0,463.6 69.7,464.1 70.3,465.2 71.0,467.0 71.7,469.6 72.3,472.8 73.0,476.0 73.7,479.2 74.4,482.5 75.0,485.0 75.8,487.2 76.5,487.7 77.1,486.9 77.8,485.3 78.5,483.0 79.1,480.5 79.8,477.4 80.4,474.3 81.0,472.0 81.7,470.1 82.4,469.2 83.0,469.0 83.7,469.6 84.4,470.9 85.0,473.0 85.6,476.0 86.2,479.7 86.7,484.0 87.3,491.4 88.0,500.0 88.6,506.5 89.1,513.5 89.7,520.0 90.3,528.2 91.0,536.0 91.6,541.7 92.3,547.3 93.0,552.0 93.6,555.4 94.2,557.7 94.7,559.0 95.3,558.8 96.0,556.0 96.6,552.3 97.3,547.4 98.0,542.0 98.7,536.2 99.3,530.0 100.0,524.0 100.7,518.1 101.4,512.5 102.0,508.0 102.6,505.2 103.2,503.6 103.7,502.5 104.3,501.7 105.0,501.7 105.6,502.2 106.3,503.0 107.0,503.0 107.8,501.0 108.6,498.0 109.3,495.1 110.0,492.0 110.6,489.9 111.2,486.0 111.8,480.4 112.5,473.3 113.2,466.0 113.9,458.4 114.6,450.5 115.2,444.0 115.9,437.9 116.5,434.0 117.2,431.1 117.8,430.0 118.4,431.1 119.0,434.0 119.6,437.8 120.2,444.0 120.8,451.0 121.5,459.5 122.2,468.0 123.0,481.0 123.6,492.0 123.9,495.9 124.2,500.0 124.9,512.1 125.8,526.0 126.4,534.0 127.0,541.6 127.6,547.9 128.4,554.8 129.2,559.4 130.0,559.6 130.8,555.4 131.4,553.9 132.0,548.8 132.6,542.8 133.4,536.5 134.2,530.6 134.7,517.3 135.2,509.5 135.7,514.9 136.2,522.7 136.7,518.4 137.2,514.2 137.7,511.4 138.2,510.4 138.9,507.3 139.6,504.3 140.3,501.0 141.0,499.9 141.6,497.4 142.4,496.1 143.0,495.8 143.7,493.2 144.4,492.5 145.2,488.6 146.0,483.8 146.8,480.0 147.6,476.7 148.4,469.9 149.0,465.9 149.3,464.2 149.6,464.1 150.2,465.2 150.9,466.9 151.6,469.4 152.3,472.7 153.0,476.6 153.7,480.4 154.4,483.1 155.2,486.1 156.0,489.0 156.6,492.6 157.3,495.8 158.0,498.3 158.7,498.9 159.3,497.9 160.0,499.5 160.7,500.7 161.3,502.1 162.0,503.1 162.7,505.5 163.3,506.2 164.0,508.1 164.7,509.7 165.4,511.5 166.0,512.3 166.5,514.0 167.0,517.9 167.7,526.4 168.5,533.2 169.2,540.1 170.0,544.5 170.8,547.8 171.5,549.2 172.2,545.9 173.0,543.0 173.8,536.1 174.5,527.9 175.2,519.1 176.0,509.7 176.6,502.5 177.2,496.5 177.7,491.2 178.4,484.2 179.0,476.7 179.8,470.3 180.5,467.4 181.1,461.4 181.7,457.3 182.3,453.4 182.9,447.6 183.5,444.7 184.3,450.8 185.0,460.5 185.5,465.7 186.0,474.4 186.5,481.2 187.1,485.8 187.7,491.7 188.4,498.1 189.0,501.5 189.5,506.3 190.0,507.4 190.6,506.9 191.3,503.4 192.0,501.1 192.7,501.1 193.4,505.1 194.0,506.6 194.6,510.7 195.2,510.6 195.7,512.8 196.4,508.6 197.0,502.6 197.8,509.6 198.5,518.6 199.1,524.5 199.7,526.0 200.3,519.2 201.0,510.1 201.7,518.2 202.5,524.1 203.2,521.0 204.0,515.7 204.6,514.0 205.3,510.4 206.0,507.6 206.7,506.6 207.4,508.1 208.0,509.5 208.6,511.0 209.2,515.4 209.7,514.7 210.4,508.4 211.0,502.1 211.8,494.4 212.6,490.9 213.2,500.2 213.8,509.8 214.5,500.2 215.2,491.3 215.9,490.4 216.6,489.0 217.3,484.9 218.0,480.1 218.6,480.3 219.2,479.3 219.8,479.9 220.5,484.9 221.2,489.0 222.0,475.6 222.8,462.7 223.2,466.0 223.6,473.1 224.3,478.9 225.0,483.7 225.5,491.7 226.0,499.5 226.5,503.9 227.0,510.3 227.5,520.1 228.0,526.3 228.5,522.5 229.0,517.9 229.5,513.2 230.0,509.9 230.5,516.1 231.0,523.2 231.5,523.5 232.0,528.0 232.5,530.8 233.0,534.8 233.7,531.5 234.4,519.8 235.2,504.3 236.0,494.0 236.5,498.2 237.0,510.5 237.5,521.0 238.0,530.9 238.5,535.8 239.0,531.5 239.5,525.3 240.0,515.1 240.5,509.9 241.0,508.4 241.5,510.6 242.0,510.0 242.5,510.6 243.0,504.2 243.7,506.0 244.4,507.8 245.0,512.7 245.6,510.6 246.0,509.2 246.4,501.3 247.0,490.2 247.6,480.6 248.1,487.8 248.6,494.1 249.3,493.6 250.0,490.2 250.8,479.7 251.6,468.5 252.1,468.9 252.6,472.2 253.1,483.4 253.6,490.5 254.3,485.5 255.0,481.4 255.5,489.3 256.0,501.0 256.5,501.4 257.0,506.8 257.5,496.1 258.0,488.6 258.5,493.5 259.0,499.8 259.5,496.7 260.0,493.3 260.5,500.8 261.0,502.4 261.5,498.0 262.0,496.3 262.5,499.5 263.0,504.7 263.5,503.0 264.0,498.2 264.5,505.2 265.0,514.6 265.5,515.9 266.0,519.9 266.5,520.2 267.0,518.5 267.5,522.4 268.0,527.5 268.5,523.0 269.0,519.3 269.5,525.2 270.0,529.7 270.5,522.4 271.0,513.7 271.5,517.5 272.0,524.4 272.5,522.8 272.9,519.7" fill="none" stroke="#000" stroke-width="1.45" stroke-linejoin="round" stroke-linecap="round"/>
</g>
<g clip-path="url(#cF)">
<path d="M315.4,555.0 C315.8,555.8 317.0,558.5 318.0,560.0 C319.0,561.5 320.0,564.2 321.3,564.3 C322.6,564.4 324.3,560.5 325.6,560.8 C326.9,561.0 327.9,565.7 329.2,565.8 C330.5,565.9 331.9,561.1 333.5,561.5 C335.1,561.9 336.9,567.5 338.5,567.9 C340.1,568.2 341.2,563.4 342.8,563.6 C344.4,563.8 346.1,569.3 347.8,569.3 C349.5,569.3 351.4,564.3 352.8,563.6 C354.2,562.9 354.9,565.7 356.3,565.0 C357.7,564.3 359.7,558.7 361.4,559.3 C363.1,559.9 364.8,568.5 366.4,568.6 C367.9,568.7 369.4,561.0 370.7,560.0 C372.0,559.0 373.3,564.2 374.2,562.9 C375.1,561.6 375.2,555.8 376.0,552.0 C376.8,548.2 378.2,542.2 379.0,540.0 C379.8,537.8 380.3,538.5 381.0,539.0 C381.7,539.5 382.3,543.5 383.0,543.0 C383.7,542.5 384.5,540.2 385.0,536.0 C385.5,531.8 385.8,524.0 386.2,518.0 C386.6,512.0 387.2,504.7 387.5,500.0 C387.8,495.3 387.6,496.7 388.0,490.0 C388.4,483.3 389.0,470.0 389.6,460.0 C390.2,450.0 391.0,437.3 391.6,430.0 C392.2,422.7 392.6,419.0 393.0,416.0 C393.4,413.0 393.6,412.0 394.0,412.0 C394.4,412.0 394.7,413.0 395.2,416.0 C395.7,419.0 396.3,422.7 397.0,430.0 C397.7,437.3 398.9,450.0 399.6,460.0 C400.3,470.0 400.8,482.5 401.3,490.0 C401.8,497.5 402.2,500.7 402.5,505.0 C402.8,509.3 402.9,511.5 403.3,516.0 C403.7,520.5 404.1,528.3 405.0,532.0 C405.9,535.7 407.7,535.3 409.0,538.0 C410.3,540.7 411.8,544.7 413.0,548.0 C414.2,551.3 415.2,556.0 416.0,558.0 C416.8,560.0 417.3,560.3 418.0,560.0 C418.7,559.7 419.2,558.7 420.0,556.0 C420.8,553.3 422.0,547.5 423.0,544.0 C424.0,540.5 425.0,537.7 426.0,535.0 C427.0,532.3 428.0,529.9 429.0,528.0 C430.0,526.1 431.1,523.9 432.0,523.6 C432.9,523.3 433.6,523.9 434.4,526.0 C435.2,528.1 436.1,532.3 437.0,536.0 C437.9,539.7 439.0,545.3 440.0,548.0 C441.0,550.7 442.0,552.0 443.0,552.0 C444.0,552.0 445.0,548.3 446.0,548.0 C447.0,547.7 448.0,549.2 449.0,550.0 C450.0,550.8 451.0,553.0 452.0,553.0 C453.0,553.0 454.0,551.5 455.0,550.0 C456.0,548.5 457.0,545.7 458.0,544.0 C459.0,542.3 460.0,541.3 461.0,540.0 C462.0,538.7 463.0,538.3 464.0,536.0 C465.0,533.7 466.0,528.4 467.0,526.0 C468.0,523.6 469.0,522.0 470.0,521.6 C471.0,521.2 472.0,522.5 473.0,523.6 C474.0,524.7 475.0,526.4 476.0,528.0 C477.0,529.6 478.0,531.2 479.0,533.0 C480.0,534.8 481.0,536.2 482.0,539.0 C483.0,541.8 484.0,546.5 485.0,550.0 C486.0,553.5 487.0,557.7 488.0,560.0 C489.0,562.3 490.0,562.5 491.0,564.0 C492.0,565.5 492.8,568.3 494.0,569.0 C495.2,569.7 496.7,568.2 498.0,568.0 C499.3,567.8 500.6,568.0 502.0,568.0 C503.4,568.0 504.5,567.7 506.3,567.7 C508.1,567.7 510.2,567.7 512.7,568.0 C515.2,568.3 517.9,569.1 521.1,569.5 C524.3,569.9 528.6,569.9 531.7,570.1 C534.9,570.3 535.8,570.6 540.0,570.8 C544.2,571.0 553.9,571.1 556.7,571.2" fill="none" stroke="#a0a0a0" stroke-width="1.3" stroke-linejoin="round" stroke-linecap="round"/>
<path d="M315.5,548.0 C315.9,549.0 317.1,552.5 318.0,554.0 C318.9,555.5 320.0,556.2 321.0,557.0 C322.0,557.8 323.0,558.0 324.0,559.0 C325.0,560.0 326.0,562.0 327.0,563.0 C328.0,564.0 329.0,564.8 330.0,565.0 C331.0,565.2 332.0,564.3 333.0,564.5 C334.0,564.7 335.0,565.3 336.0,566.0 C337.0,566.7 338.0,568.2 339.0,568.5 C340.0,568.8 341.0,567.9 342.0,568.0 C343.0,568.1 344.0,568.7 345.0,569.0 C346.0,569.3 347.2,569.8 348.0,570.0 C348.8,570.2 349.2,570.8 350.0,570.5 C350.8,570.2 352.0,568.9 353.0,568.0 C354.0,567.1 355.0,565.8 356.0,565.0 C357.0,564.2 358.0,563.3 359.0,563.0 C360.0,562.7 361.0,563.7 362.0,563.0 C363.0,562.3 364.1,560.5 365.0,559.0 C365.9,557.5 366.8,555.1 367.5,554.0 C368.2,552.9 368.5,552.5 369.0,552.5 C369.5,552.5 370.2,553.1 370.7,554.0 C371.2,554.9 371.5,557.0 372.0,558.0 C372.5,559.0 373.0,560.7 373.5,560.0 C374.0,559.3 374.4,556.7 375.0,554.0 C375.6,551.3 376.3,546.5 377.0,544.0 C377.7,541.5 378.4,539.7 379.0,539.0 C379.6,538.3 380.2,538.8 380.7,540.0 C381.2,541.2 381.4,545.0 382.0,546.0 C382.6,547.0 383.5,547.7 384.0,546.0 C384.5,544.3 384.6,540.7 385.0,536.0 C385.4,531.3 385.8,524.0 386.2,518.0 C386.6,512.0 387.2,504.7 387.5,500.0 C387.8,495.3 387.6,496.7 388.0,490.0 C388.4,483.3 389.0,470.0 389.6,460.0 C390.2,450.0 391.0,437.2 391.6,430.0 C392.2,422.8 392.6,419.8 393.0,417.0 C393.4,414.2 393.6,413.0 394.0,413.0 C394.4,413.0 394.7,414.2 395.2,417.0 C395.7,419.8 396.3,422.8 397.0,430.0 C397.7,437.2 398.9,450.0 399.6,460.0 C400.3,470.0 400.9,482.5 401.3,490.0 C401.8,497.5 402.1,500.7 402.3,505.0 C402.6,509.3 402.5,512.5 402.8,516.0 C403.1,519.5 403.5,523.5 404.0,526.0 C404.5,528.5 405.2,529.5 406.0,531.0 C406.8,532.5 408.2,533.5 409.0,535.0 C409.8,536.5 410.3,537.8 411.0,540.0 C411.7,542.2 412.3,545.2 413.0,548.0 C413.7,550.8 414.3,554.5 415.0,557.0 C415.7,559.5 416.4,562.2 417.0,563.0 C417.6,563.8 418.3,562.8 418.8,562.0 C419.3,561.2 419.5,560.7 420.0,558.0 C420.5,555.3 421.3,549.3 422.0,546.0 C422.7,542.7 423.2,540.2 424.0,538.0 C424.8,535.8 425.8,533.9 427.0,533.0 C428.2,532.1 429.8,532.6 431.0,532.7 C432.2,532.8 432.9,532.7 434.0,533.7 C435.1,534.8 436.3,537.2 437.5,539.0 C438.7,540.8 440.2,544.2 441.2,544.5 C442.1,544.8 442.5,541.9 443.2,540.5 C443.9,539.1 444.9,537.0 445.5,536.3 C446.1,535.6 446.4,535.5 447.0,536.5 C447.6,537.5 448.2,539.8 449.0,542.0 C449.8,544.2 450.9,548.0 451.7,550.0 C452.5,552.0 453.0,554.0 453.7,554.0 C454.4,554.0 455.0,551.7 455.7,550.0 C456.4,548.3 457.3,545.3 458.0,544.0 C458.7,542.7 459.2,542.5 460.0,542.0 C460.8,541.5 461.8,542.2 462.5,541.0 C463.2,539.8 463.8,537.5 464.5,535.0 C465.2,532.5 466.1,528.2 467.0,526.0 C467.9,523.8 468.9,522.3 469.7,521.6 C470.5,520.9 471.0,521.3 471.7,522.0 C472.4,522.7 473.1,524.7 474.0,526.0 C474.9,527.3 476.1,528.4 477.0,529.7 C477.9,531.0 478.9,532.3 479.7,534.0 C480.5,535.7 481.3,537.7 482.0,540.0 C482.7,542.3 483.3,545.3 484.0,548.0 C484.7,550.7 485.2,553.8 486.0,556.0 C486.8,558.2 487.7,560.5 488.5,561.0 C489.3,561.5 490.1,559.7 491.0,559.0 C491.9,558.3 492.9,557.0 493.7,557.0 C494.5,557.0 494.9,558.2 496.0,559.0 C497.1,559.8 498.7,561.0 500.0,561.9 C501.3,562.8 502.6,563.7 503.7,564.5 C504.8,565.3 505.8,566.8 506.9,566.6 C508.0,566.4 509.4,564.5 510.6,563.5 C511.8,562.5 513.2,560.8 514.3,560.8 C515.4,560.8 516.3,562.5 517.4,563.5 C518.5,564.5 519.7,566.6 521.1,566.6 C522.5,566.6 524.6,564.0 525.9,563.8 C527.2,563.6 528.0,564.8 529.0,565.6 C530.0,566.4 531.0,568.0 531.7,568.8 C532.4,569.6 532.6,570.8 533.3,570.3 C534.0,569.8 534.8,567.5 535.9,566.1 C537.0,564.7 538.5,562.9 540.1,561.9 C541.7,560.9 543.6,560.4 545.4,560.3 C547.2,560.2 548.9,560.8 550.7,561.4 C552.5,562.0 555.0,563.3 556.0,563.8 C557.0,564.3 556.6,564.1 556.7,564.2" fill="none" stroke="#000" stroke-width="1.3" stroke-linejoin="round" stroke-linecap="round"/>
</g>
<line x1="46.50" y1="169.60" x2="46.50" y2="165.10" stroke="#000" stroke-width="1.0"/>
<line x1="46.50" y1="0.90" x2="46.50" y2="5.40" stroke="#000" stroke-width="1.0"/>
<line x1="79.50" y1="169.60" x2="79.50" y2="165.10" stroke="#000" stroke-width="1.0"/>
<line x1="79.50" y1="0.90" x2="79.50" y2="5.40" stroke="#000" stroke-width="1.0"/>
<line x1="112.50" y1="169.60" x2="112.50" y2="165.10" stroke="#000" stroke-width="1.0"/>
<line x1="112.50" y1="0.90" x2="112.50" y2="5.40" stroke="#000" stroke-width="1.0"/>
<line x1="145.50" y1="169.60" x2="145.50" y2="165.10" stroke="#000" stroke-width="1.0"/>
<line x1="145.50" y1="0.90" x2="145.50" y2="5.40" stroke="#000" stroke-width="1.0"/>
<line x1="177.50" y1="169.60" x2="177.50" y2="165.10" stroke="#000" stroke-width="1.0"/>
<line x1="177.50" y1="0.90" x2="177.50" y2="5.40" stroke="#000" stroke-width="1.0"/>
<line x1="210.50" y1="169.60" x2="210.50" y2="165.10" stroke="#000" stroke-width="1.0"/>
<line x1="210.50" y1="0.90" x2="210.50" y2="5.40" stroke="#000" stroke-width="1.0"/>
<line x1="243.50" y1="169.60" x2="243.50" y2="165.10" stroke="#000" stroke-width="1.0"/>
<line x1="243.50" y1="0.90" x2="243.50" y2="5.40" stroke="#000" stroke-width="1.0"/>
<line x1="63.50" y1="169.60" x2="63.50" y2="167.10" stroke="#000" stroke-width="1.0"/>
<line x1="63.50" y1="0.90" x2="63.50" y2="3.40" stroke="#000" stroke-width="1.0"/>
<line x1="95.50" y1="169.60" x2="95.50" y2="167.10" stroke="#000" stroke-width="1.0"/>
<line x1="95.50" y1="0.90" x2="95.50" y2="3.40" stroke="#000" stroke-width="1.0"/>
<line x1="128.50" y1="169.60" x2="128.50" y2="167.10" stroke="#000" stroke-width="1.0"/>
<line x1="128.50" y1="0.90" x2="128.50" y2="3.40" stroke="#000" stroke-width="1.0"/>
<line x1="161.50" y1="169.60" x2="161.50" y2="167.10" stroke="#000" stroke-width="1.0"/>
<line x1="161.50" y1="0.90" x2="161.50" y2="3.40" stroke="#000" stroke-width="1.0"/>
<line x1="194.50" y1="169.60" x2="194.50" y2="167.10" stroke="#000" stroke-width="1.0"/>
<line x1="194.50" y1="0.90" x2="194.50" y2="3.40" stroke="#000" stroke-width="1.0"/>
<line x1="226.50" y1="169.60" x2="226.50" y2="167.10" stroke="#000" stroke-width="1.0"/>
<line x1="226.50" y1="0.90" x2="226.50" y2="3.40" stroke="#000" stroke-width="1.0"/>
<line x1="259.50" y1="169.60" x2="259.50" y2="167.10" stroke="#000" stroke-width="1.0"/>
<line x1="259.50" y1="0.90" x2="259.50" y2="3.40" stroke="#000" stroke-width="1.0"/>
<line x1="30.70" y1="156.50" x2="35.20" y2="156.50" stroke="#000" stroke-width="1.0"/>
<line x1="271.90" y1="156.50" x2="267.40" y2="156.50" stroke="#000" stroke-width="1.0"/>
<line x1="30.70" y1="127.50" x2="35.20" y2="127.50" stroke="#000" stroke-width="1.0"/>
<line x1="271.90" y1="127.50" x2="267.40" y2="127.50" stroke="#000" stroke-width="1.0"/>
<line x1="30.70" y1="99.50" x2="35.20" y2="99.50" stroke="#000" stroke-width="1.0"/>
<line x1="271.90" y1="99.50" x2="267.40" y2="99.50" stroke="#000" stroke-width="1.0"/>
<line x1="30.70" y1="71.50" x2="35.20" y2="71.50" stroke="#000" stroke-width="1.0"/>
<line x1="271.90" y1="71.50" x2="267.40" y2="71.50" stroke="#000" stroke-width="1.0"/>
<line x1="30.70" y1="42.50" x2="35.20" y2="42.50" stroke="#000" stroke-width="1.0"/>
<line x1="271.90" y1="42.50" x2="267.40" y2="42.50" stroke="#000" stroke-width="1.0"/>
<line x1="30.70" y1="14.50" x2="35.20" y2="14.50" stroke="#000" stroke-width="1.0"/>
<line x1="271.90" y1="14.50" x2="267.40" y2="14.50" stroke="#000" stroke-width="1.0"/>
<line x1="30.70" y1="141.50" x2="33.20" y2="141.50" stroke="#000" stroke-width="1.0"/>
<line x1="271.90" y1="141.50" x2="269.40" y2="141.50" stroke="#000" stroke-width="1.0"/>
<line x1="30.70" y1="113.50" x2="33.20" y2="113.50" stroke="#000" stroke-width="1.0"/>
<line x1="271.90" y1="113.50" x2="269.40" y2="113.50" stroke="#000" stroke-width="1.0"/>
<line x1="30.70" y1="85.50" x2="33.20" y2="85.50" stroke="#000" stroke-width="1.0"/>
<line x1="271.90" y1="85.50" x2="269.40" y2="85.50" stroke="#000" stroke-width="1.0"/>
<line x1="30.70" y1="57.50" x2="33.20" y2="57.50" stroke="#000" stroke-width="1.0"/>
<line x1="271.90" y1="57.50" x2="269.40" y2="57.50" stroke="#000" stroke-width="1.0"/>
<line x1="30.70" y1="28.50" x2="33.20" y2="28.50" stroke="#000" stroke-width="1.0"/>
<line x1="271.90" y1="28.50" x2="269.40" y2="28.50" stroke="#000" stroke-width="1.0"/>
<text x="46.90" y="175.80" font-size="7" font-family='"Liberation Sans", sans-serif' text-anchor="middle" >2</text>
<text x="79.60" y="175.80" font-size="7" font-family='"Liberation Sans", sans-serif' text-anchor="middle" >4</text>
<text x="112.30" y="175.80" font-size="7" font-family='"Liberation Sans", sans-serif' text-anchor="middle" >6</text>
<text x="145.00" y="175.80" font-size="7" font-family='"Liberation Sans", sans-serif' text-anchor="middle" >8</text>
<text x="177.70" y="175.80" font-size="7" font-family='"Liberation Sans", sans-serif' text-anchor="middle" >10</text>
<text x="210.40" y="175.80" font-size="7" font-family='"Liberation Sans", sans-serif' text-anchor="middle" >12</text>
<text x="243.10" y="175.80" font-size="7" font-family='"Liberation Sans", sans-serif' text-anchor="middle" >14</text>
<text x="29.70" y="159.10" font-size="7" font-family='"Liberation Sans", sans-serif' text-anchor="end" >-4</text>
<text x="29.70" y="130.80" font-size="7" font-family='"Liberation Sans", sans-serif' text-anchor="end" >-2</text>
<text x="29.70" y="102.50" font-size="7" font-family='"Liberation Sans", sans-serif' text-anchor="end" >0</text>
<text x="29.70" y="74.20" font-size="7" font-family='"Liberation Sans", sans-serif' text-anchor="end" >2</text>
<text x="29.70" y="45.90" font-size="7" font-family='"Liberation Sans", sans-serif' text-anchor="end" >4</text>
<text x="29.70" y="17.60" font-size="7" font-family='"Liberation Sans", sans-serif' text-anchor="end" >6</text>
<rect x="30.5" y="0.5" width="241.00" height="169.00" fill="none" stroke="#000" stroke-width="1.5"/>
<line x1="47.50" y1="369.20" x2="47.50" y2="364.70" stroke="#000" stroke-width="1.0"/>
<line x1="47.50" y1="200.80" x2="47.50" y2="205.30" stroke="#000" stroke-width="1.0"/>
<line x1="80.50" y1="369.20" x2="80.50" y2="364.70" stroke="#000" stroke-width="1.0"/>
<line x1="80.50" y1="200.80" x2="80.50" y2="205.30" stroke="#000" stroke-width="1.0"/>
<line x1="112.50" y1="369.20" x2="112.50" y2="364.70" stroke="#000" stroke-width="1.0"/>
<line x1="112.50" y1="200.80" x2="112.50" y2="205.30" stroke="#000" stroke-width="1.0"/>
<line x1="145.50" y1="369.20" x2="145.50" y2="364.70" stroke="#000" stroke-width="1.0"/>
<line x1="145.50" y1="200.80" x2="145.50" y2="205.30" stroke="#000" stroke-width="1.0"/>
<line x1="178.50" y1="369.20" x2="178.50" y2="364.70" stroke="#000" stroke-width="1.0"/>
<line x1="178.50" y1="200.80" x2="178.50" y2="205.30" stroke="#000" stroke-width="1.0"/>
<line x1="211.50" y1="369.20" x2="211.50" y2="364.70" stroke="#000" stroke-width="1.0"/>
<line x1="211.50" y1="200.80" x2="211.50" y2="205.30" stroke="#000" stroke-width="1.0"/>
<line x1="244.50" y1="369.20" x2="244.50" y2="364.70" stroke="#000" stroke-width="1.0"/>
<line x1="244.50" y1="200.80" x2="244.50" y2="205.30" stroke="#000" stroke-width="1.0"/>
<line x1="63.50" y1="369.20" x2="63.50" y2="366.70" stroke="#000" stroke-width="1.0"/>
<line x1="63.50" y1="200.80" x2="63.50" y2="203.30" stroke="#000" stroke-width="1.0"/>
<line x1="96.50" y1="369.20" x2="96.50" y2="366.70" stroke="#000" stroke-width="1.0"/>
<line x1="96.50" y1="200.80" x2="96.50" y2="203.30" stroke="#000" stroke-width="1.0"/>
<line x1="129.50" y1="369.20" x2="129.50" y2="366.70" stroke="#000" stroke-width="1.0"/>
<line x1="129.50" y1="200.80" x2="129.50" y2="203.30" stroke="#000" stroke-width="1.0"/>
<line x1="162.50" y1="369.20" x2="162.50" y2="366.70" stroke="#000" stroke-width="1.0"/>
<line x1="162.50" y1="200.80" x2="162.50" y2="203.30" stroke="#000" stroke-width="1.0"/>
<line x1="194.50" y1="369.20" x2="194.50" y2="366.70" stroke="#000" stroke-width="1.0"/>
<line x1="194.50" y1="200.80" x2="194.50" y2="203.30" stroke="#000" stroke-width="1.0"/>
<line x1="227.50" y1="369.20" x2="227.50" y2="366.70" stroke="#000" stroke-width="1.0"/>
<line x1="227.50" y1="200.80" x2="227.50" y2="203.30" stroke="#000" stroke-width="1.0"/>
<line x1="260.50" y1="369.20" x2="260.50" y2="366.70" stroke="#000" stroke-width="1.0"/>
<line x1="260.50" y1="200.80" x2="260.50" y2="203.30" stroke="#000" stroke-width="1.0"/>
<line x1="31.50" y1="369.50" x2="36.00" y2="369.50" stroke="#000" stroke-width="1.0"/>
<line x1="272.50" y1="369.50" x2="268.00" y2="369.50" stroke="#000" stroke-width="1.0"/>
<line x1="31.50" y1="347.50" x2="36.00" y2="347.50" stroke="#000" stroke-width="1.0"/>
<line x1="272.50" y1="347.50" x2="268.00" y2="347.50" stroke="#000" stroke-width="1.0"/>
<line x1="31.50" y1="326.50" x2="36.00" y2="326.50" stroke="#000" stroke-width="1.0"/>
<line x1="272.50" y1="326.50" x2="268.00" y2="326.50" stroke="#000" stroke-width="1.0"/>
<line x1="31.50" y1="305.50" x2="36.00" y2="305.50" stroke="#000" stroke-width="1.0"/>
<line x1="272.50" y1="305.50" x2="268.00" y2="305.50" stroke="#000" stroke-width="1.0"/>
<line x1="31.50" y1="284.50" x2="36.00" y2="284.50" stroke="#000" stroke-width="1.0"/>
<line x1="272.50" y1="284.50" x2="268.00" y2="284.50" stroke="#000" stroke-width="1.0"/>
<line x1="31.50" y1="263.50" x2="36.00" y2="263.50" stroke="#000" stroke-width="1.0"/>
<line x1="272.50" y1="263.50" x2="268.00" y2="263.50" stroke="#000" stroke-width="1.0"/>
<line x1="31.50" y1="242.50" x2="36.00" y2="242.50" stroke="#000" stroke-width="1.0"/>
<line x1="272.50" y1="242.50" x2="268.00" y2="242.50" stroke="#000" stroke-width="1.0"/>
<line x1="31.50" y1="221.50" x2="36.00" y2="221.50" stroke="#000" stroke-width="1.0"/>
<line x1="272.50" y1="221.50" x2="268.00" y2="221.50" stroke="#000" stroke-width="1.0"/>
<line x1="31.50" y1="200.50" x2="36.00" y2="200.50" stroke="#000" stroke-width="1.0"/>
<line x1="272.50" y1="200.50" x2="268.00" y2="200.50" stroke="#000" stroke-width="1.0"/>
<text x="47.20" y="375.90" font-size="7" font-family='"Liberation Sans", sans-serif' text-anchor="middle" >2</text>
<text x="80.00" y="375.90" font-size="7" font-family='"Liberation Sans", sans-serif' text-anchor="middle" >4</text>
<text x="112.80" y="375.90" font-size="7" font-family='"Liberation Sans", sans-serif' text-anchor="middle" >6</text>
<text x="145.60" y="375.90" font-size="7" font-family='"Liberation Sans", sans-serif' text-anchor="middle" >8</text>
<text x="178.40" y="375.90" font-size="7" font-family='"Liberation Sans", sans-serif' text-anchor="middle" >10</text>
<text x="211.20" y="375.90" font-size="7" font-family='"Liberation Sans", sans-serif' text-anchor="middle" >12</text>
<text x="244.00" y="375.90" font-size="7" font-family='"Liberation Sans", sans-serif' text-anchor="middle" >14</text>
<text x="30.00" y="372.01" font-size="7" font-family='"Liberation Sans", sans-serif' text-anchor="end" >-4</text>
<text x="30.00" y="350.97" font-size="7" font-family='"Liberation Sans", sans-serif' text-anchor="end" >-3</text>
<text x="30.00" y="329.93" font-size="7" font-family='"Liberation Sans", sans-serif' text-anchor="end" >-2</text>
<text x="30.00" y="308.89" font-size="7" font-family='"Liberation Sans", sans-serif' text-anchor="end" >-1</text>
<text x="30.00" y="287.85" font-size="7" font-family='"Liberation Sans", sans-serif' text-anchor="end" >0</text>
<text x="30.00" y="266.81" font-size="7" font-family='"Liberation Sans", sans-serif' text-anchor="end" >1</text>
<text x="30.00" y="245.77" font-size="7" font-family='"Liberation Sans", sans-serif' text-anchor="end" >2</text>
<text x="30.00" y="224.73" font-size="7" font-family='"Liberation Sans", sans-serif' text-anchor="end" >3</text>
<text x="30.00" y="203.69" font-size="7" font-family='"Liberation Sans", sans-serif' text-anchor="end" >4</text>
<rect x="31.5" y="200.5" width="241.00" height="169.00" fill="none" stroke="#000" stroke-width="1.5"/>
<line x1="48.50" y1="572.50" x2="48.50" y2="568.00" stroke="#000" stroke-width="1.0"/>
<line x1="48.50" y1="403.80" x2="48.50" y2="408.30" stroke="#000" stroke-width="1.0"/>
<line x1="83.50" y1="572.50" x2="83.50" y2="568.00" stroke="#000" stroke-width="1.0"/>
<line x1="83.50" y1="403.80" x2="83.50" y2="408.30" stroke="#000" stroke-width="1.0"/>
<line x1="118.50" y1="572.50" x2="118.50" y2="568.00" stroke="#000" stroke-width="1.0"/>
<line x1="118.50" y1="403.80" x2="118.50" y2="408.30" stroke="#000" stroke-width="1.0"/>
<line x1="153.50" y1="572.50" x2="153.50" y2="568.00" stroke="#000" stroke-width="1.0"/>
<line x1="153.50" y1="403.80" x2="153.50" y2="408.30" stroke="#000" stroke-width="1.0"/>
<line x1="188.50" y1="572.50" x2="188.50" y2="568.00" stroke="#000" stroke-width="1.0"/>
<line x1="188.50" y1="403.80" x2="188.50" y2="408.30" stroke="#000" stroke-width="1.0"/>
<line x1="223.50" y1="572.50" x2="223.50" y2="568.00" stroke="#000" stroke-width="1.0"/>
<line x1="223.50" y1="403.80" x2="223.50" y2="408.30" stroke="#000" stroke-width="1.0"/>
<line x1="257.50" y1="572.50" x2="257.50" y2="568.00" stroke="#000" stroke-width="1.0"/>
<line x1="257.50" y1="403.80" x2="257.50" y2="408.30" stroke="#000" stroke-width="1.0"/>
<line x1="66.50" y1="572.50" x2="66.50" y2="570.00" stroke="#000" stroke-width="1.0"/>
<line x1="66.50" y1="403.80" x2="66.50" y2="406.30" stroke="#000" stroke-width="1.0"/>
<line x1="101.50" y1="572.50" x2="101.50" y2="570.00" stroke="#000" stroke-width="1.0"/>
<line x1="101.50" y1="403.80" x2="101.50" y2="406.30" stroke="#000" stroke-width="1.0"/>
<line x1="135.50" y1="572.50" x2="135.50" y2="570.00" stroke="#000" stroke-width="1.0"/>
<line x1="135.50" y1="403.80" x2="135.50" y2="406.30" stroke="#000" stroke-width="1.0"/>
<line x1="170.50" y1="572.50" x2="170.50" y2="570.00" stroke="#000" stroke-width="1.0"/>
<line x1="170.50" y1="403.80" x2="170.50" y2="406.30" stroke="#000" stroke-width="1.0"/>
<line x1="205.50" y1="572.50" x2="205.50" y2="570.00" stroke="#000" stroke-width="1.0"/>
<line x1="205.50" y1="403.80" x2="205.50" y2="406.30" stroke="#000" stroke-width="1.0"/>
<line x1="240.50" y1="572.50" x2="240.50" y2="570.00" stroke="#000" stroke-width="1.0"/>
<line x1="240.50" y1="403.80" x2="240.50" y2="406.30" stroke="#000" stroke-width="1.0"/>
<line x1="31.65" y1="558.50" x2="36.15" y2="558.50" stroke="#000" stroke-width="1.0"/>
<line x1="272.90" y1="558.50" x2="268.40" y2="558.50" stroke="#000" stroke-width="1.0"/>
<line x1="31.65" y1="530.50" x2="36.15" y2="530.50" stroke="#000" stroke-width="1.0"/>
<line x1="272.90" y1="530.50" x2="268.40" y2="530.50" stroke="#000" stroke-width="1.0"/>
<line x1="31.65" y1="502.50" x2="36.15" y2="502.50" stroke="#000" stroke-width="1.0"/>
<line x1="272.90" y1="502.50" x2="268.40" y2="502.50" stroke="#000" stroke-width="1.0"/>
<line x1="31.65" y1="474.50" x2="36.15" y2="474.50" stroke="#000" stroke-width="1.0"/>
<line x1="272.90" y1="474.50" x2="268.40" y2="474.50" stroke="#000" stroke-width="1.0"/>
<line x1="31.65" y1="445.50" x2="36.15" y2="445.50" stroke="#000" stroke-width="1.0"/>
<line x1="272.90" y1="445.50" x2="268.40" y2="445.50" stroke="#000" stroke-width="1.0"/>
<line x1="31.65" y1="417.50" x2="36.15" y2="417.50" stroke="#000" stroke-width="1.0"/>
<line x1="272.90" y1="417.50" x2="268.40" y2="417.50" stroke="#000" stroke-width="1.0"/>
<line x1="31.65" y1="544.50" x2="34.15" y2="544.50" stroke="#000" stroke-width="1.0"/>
<line x1="272.90" y1="544.50" x2="270.40" y2="544.50" stroke="#000" stroke-width="1.0"/>
<line x1="31.65" y1="516.50" x2="34.15" y2="516.50" stroke="#000" stroke-width="1.0"/>
<line x1="272.90" y1="516.50" x2="270.40" y2="516.50" stroke="#000" stroke-width="1.0"/>
<line x1="31.65" y1="488.50" x2="34.15" y2="488.50" stroke="#000" stroke-width="1.0"/>
<line x1="272.90" y1="488.50" x2="270.40" y2="488.50" stroke="#000" stroke-width="1.0"/>
<line x1="31.65" y1="460.50" x2="34.15" y2="460.50" stroke="#000" stroke-width="1.0"/>
<line x1="272.90" y1="460.50" x2="270.40" y2="460.50" stroke="#000" stroke-width="1.0"/>
<line x1="31.65" y1="431.50" x2="34.15" y2="431.50" stroke="#000" stroke-width="1.0"/>
<line x1="272.90" y1="431.50" x2="270.40" y2="431.50" stroke="#000" stroke-width="1.0"/>
<text x="48.80" y="578.80" font-size="7" font-family='"Liberation Sans", sans-serif' text-anchor="middle" >2</text>
<text x="83.66" y="578.80" font-size="7" font-family='"Liberation Sans", sans-serif' text-anchor="middle" >4</text>
<text x="118.52" y="578.80" font-size="7" font-family='"Liberation Sans", sans-serif' text-anchor="middle" >6</text>
<text x="153.38" y="578.80" font-size="7" font-family='"Liberation Sans", sans-serif' text-anchor="middle" >8</text>
<text x="188.24" y="578.80" font-size="7" font-family='"Liberation Sans", sans-serif' text-anchor="middle" >10</text>
<text x="223.10" y="578.80" font-size="7" font-family='"Liberation Sans", sans-serif' text-anchor="middle" >12</text>
<text x="257.96" y="578.80" font-size="7" font-family='"Liberation Sans", sans-serif' text-anchor="middle" >14</text>
<text x="30.00" y="561.22" font-size="7" font-family='"Liberation Sans", sans-serif' text-anchor="end" >-4</text>
<text x="30.00" y="533.16" font-size="7" font-family='"Liberation Sans", sans-serif' text-anchor="end" >-2</text>
<text x="30.00" y="505.10" font-size="7" font-family='"Liberation Sans", sans-serif' text-anchor="end" >0</text>
<text x="30.00" y="477.04" font-size="7" font-family='"Liberation Sans", sans-serif' text-anchor="end" >2</text>
<text x="30.00" y="448.98" font-size="7" font-family='"Liberation Sans", sans-serif' text-anchor="end" >4</text>
<text x="30.00" y="420.92" font-size="7" font-family='"Liberation Sans", sans-serif' text-anchor="end" >6</text>
<rect x="31.5" y="403.5" width="241.00" height="169.00" fill="none" stroke="#000" stroke-width="1.5"/>
<line x1="315.50" y1="170.30" x2="315.50" y2="165.80" stroke="#000" stroke-width="1.0"/>
<line x1="315.50" y1="1.70" x2="315.50" y2="6.20" stroke="#000" stroke-width="1.0"/>
<line x1="355.50" y1="170.30" x2="355.50" y2="165.80" stroke="#000" stroke-width="1.0"/>
<line x1="355.50" y1="1.70" x2="355.50" y2="6.20" stroke="#000" stroke-width="1.0"/>
<line x1="396.50" y1="170.30" x2="396.50" y2="165.80" stroke="#000" stroke-width="1.0"/>
<line x1="396.50" y1="1.70" x2="396.50" y2="6.20" stroke="#000" stroke-width="1.0"/>
<line x1="436.50" y1="170.30" x2="436.50" y2="165.80" stroke="#000" stroke-width="1.0"/>
<line x1="436.50" y1="1.70" x2="436.50" y2="6.20" stroke="#000" stroke-width="1.0"/>
<line x1="476.50" y1="170.30" x2="476.50" y2="165.80" stroke="#000" stroke-width="1.0"/>
<line x1="476.50" y1="1.70" x2="476.50" y2="6.20" stroke="#000" stroke-width="1.0"/>
<line x1="516.50" y1="170.30" x2="516.50" y2="165.80" stroke="#000" stroke-width="1.0"/>
<line x1="516.50" y1="1.70" x2="516.50" y2="6.20" stroke="#000" stroke-width="1.0"/>
<line x1="315.60" y1="169.50" x2="320.10" y2="169.50" stroke="#000" stroke-width="1.0"/>
<line x1="556.50" y1="169.50" x2="552.00" y2="169.50" stroke="#000" stroke-width="1.0"/>
<line x1="315.60" y1="143.50" x2="320.10" y2="143.50" stroke="#000" stroke-width="1.0"/>
<line x1="556.50" y1="143.50" x2="552.00" y2="143.50" stroke="#000" stroke-width="1.0"/>
<line x1="315.60" y1="118.50" x2="320.10" y2="118.50" stroke="#000" stroke-width="1.0"/>
<line x1="556.50" y1="118.50" x2="552.00" y2="118.50" stroke="#000" stroke-width="1.0"/>
<line x1="315.60" y1="92.50" x2="320.10" y2="92.50" stroke="#000" stroke-width="1.0"/>
<line x1="556.50" y1="92.50" x2="552.00" y2="92.50" stroke="#000" stroke-width="1.0"/>
<line x1="315.60" y1="66.50" x2="320.10" y2="66.50" stroke="#000" stroke-width="1.0"/>
<line x1="556.50" y1="66.50" x2="552.00" y2="66.50" stroke="#000" stroke-width="1.0"/>
<line x1="315.60" y1="40.50" x2="320.10" y2="40.50" stroke="#000" stroke-width="1.0"/>
<line x1="556.50" y1="40.50" x2="552.00" y2="40.50" stroke="#000" stroke-width="1.0"/>
<line x1="315.60" y1="14.50" x2="320.10" y2="14.50" stroke="#000" stroke-width="1.0"/>
<line x1="556.50" y1="14.50" x2="552.00" y2="14.50" stroke="#000" stroke-width="1.0"/>
<line x1="315.60" y1="156.50" x2="318.10" y2="156.50" stroke="#000" stroke-width="1.0"/>
<line x1="556.50" y1="156.50" x2="554.00" y2="156.50" stroke="#000" stroke-width="1.0"/>
<line x1="315.60" y1="130.50" x2="318.10" y2="130.50" stroke="#000" stroke-width="1.0"/>
<line x1="556.50" y1="130.50" x2="554.00" y2="130.50" stroke="#000" stroke-width="1.0"/>
<line x1="315.60" y1="105.50" x2="318.10" y2="105.50" stroke="#000" stroke-width="1.0"/>
<line x1="556.50" y1="105.50" x2="554.00" y2="105.50" stroke="#000" stroke-width="1.0"/>
<line x1="315.60" y1="79.50" x2="318.10" y2="79.50" stroke="#000" stroke-width="1.0"/>
<line x1="556.50" y1="79.50" x2="554.00" y2="79.50" stroke="#000" stroke-width="1.0"/>
<line x1="315.60" y1="53.50" x2="318.10" y2="53.50" stroke="#000" stroke-width="1.0"/>
<line x1="556.50" y1="53.50" x2="554.00" y2="53.50" stroke="#000" stroke-width="1.0"/>
<line x1="315.60" y1="27.50" x2="318.10" y2="27.50" stroke="#000" stroke-width="1.0"/>
<line x1="556.50" y1="27.50" x2="554.00" y2="27.50" stroke="#000" stroke-width="1.0"/>
<text x="315.60" y="176.10" font-size="7" font-family='"Liberation Sans", sans-serif' text-anchor="middle" >0</text>
<text x="355.80" y="176.10" font-size="7" font-family='"Liberation Sans", sans-serif' text-anchor="middle" >1</text>
<text x="396.00" y="176.10" font-size="7" font-family='"Liberation Sans", sans-serif' text-anchor="middle" >2</text>
<text x="436.20" y="176.10" font-size="7" font-family='"Liberation Sans", sans-serif' text-anchor="middle" >3</text>
<text x="476.40" y="176.10" font-size="7" font-family='"Liberation Sans", sans-serif' text-anchor="middle" >4</text>
<text x="516.60" y="176.10" font-size="7" font-family='"Liberation Sans", sans-serif' text-anchor="middle" >5</text>
<text x="556.80" y="176.10" font-size="7" font-family='"Liberation Sans", sans-serif' text-anchor="middle" >6</text>
<text x="314.80" y="172.90" font-size="7" font-family='"Liberation Sans", sans-serif' text-anchor="end" >0</text>
<text x="314.80" y="146.96" font-size="7" font-family='"Liberation Sans", sans-serif' text-anchor="end" >0.2</text>
<text x="314.80" y="121.02" font-size="7" font-family='"Liberation Sans", sans-serif' text-anchor="end" >0.4</text>
<text x="314.80" y="95.08" font-size="7" font-family='"Liberation Sans", sans-serif' text-anchor="end" >0.6</text>
<text x="314.80" y="69.14" font-size="7" font-family='"Liberation Sans", sans-serif' text-anchor="end" >0.8</text>
<text x="314.80" y="43.20" font-size="7" font-family='"Liberation Sans", sans-serif' text-anchor="end" >1</text>
<text x="314.80" y="17.26" font-size="7" font-family='"Liberation Sans", sans-serif' text-anchor="end" >1.2</text>
<rect x="315.5" y="1.5" width="241.00" height="169.00" fill="none" stroke="#000" stroke-width="1.5"/>
<line x1="315.50" y1="370.10" x2="315.50" y2="365.60" stroke="#000" stroke-width="1.0"/>
<line x1="315.50" y1="201.40" x2="315.50" y2="205.90" stroke="#000" stroke-width="1.0"/>
<line x1="355.50" y1="370.10" x2="355.50" y2="365.60" stroke="#000" stroke-width="1.0"/>
<line x1="355.50" y1="201.40" x2="355.50" y2="205.90" stroke="#000" stroke-width="1.0"/>
<line x1="396.50" y1="370.10" x2="396.50" y2="365.60" stroke="#000" stroke-width="1.0"/>
<line x1="396.50" y1="201.40" x2="396.50" y2="205.90" stroke="#000" stroke-width="1.0"/>
<line x1="436.50" y1="370.10" x2="436.50" y2="365.60" stroke="#000" stroke-width="1.0"/>
<line x1="436.50" y1="201.40" x2="436.50" y2="205.90" stroke="#000" stroke-width="1.0"/>
<line x1="476.50" y1="370.10" x2="476.50" y2="365.60" stroke="#000" stroke-width="1.0"/>
<line x1="476.50" y1="201.40" x2="476.50" y2="205.90" stroke="#000" stroke-width="1.0"/>
<line x1="516.50" y1="370.10" x2="516.50" y2="365.60" stroke="#000" stroke-width="1.0"/>
<line x1="516.50" y1="201.40" x2="516.50" y2="205.90" stroke="#000" stroke-width="1.0"/>
<line x1="315.50" y1="370.50" x2="320.00" y2="370.50" stroke="#000" stroke-width="1.0"/>
<line x1="556.20" y1="370.50" x2="551.70" y2="370.50" stroke="#000" stroke-width="1.0"/>
<line x1="315.50" y1="351.50" x2="320.00" y2="351.50" stroke="#000" stroke-width="1.0"/>
<line x1="556.20" y1="351.50" x2="551.70" y2="351.50" stroke="#000" stroke-width="1.0"/>
<line x1="315.50" y1="332.50" x2="320.00" y2="332.50" stroke="#000" stroke-width="1.0"/>
<line x1="556.20" y1="332.50" x2="551.70" y2="332.50" stroke="#000" stroke-width="1.0"/>
<line x1="315.50" y1="313.50" x2="320.00" y2="313.50" stroke="#000" stroke-width="1.0"/>
<line x1="556.20" y1="313.50" x2="551.70" y2="313.50" stroke="#000" stroke-width="1.0"/>
<line x1="315.50" y1="294.50" x2="320.00" y2="294.50" stroke="#000" stroke-width="1.0"/>
<line x1="556.20" y1="294.50" x2="551.70" y2="294.50" stroke="#000" stroke-width="1.0"/>
<line x1="315.50" y1="275.50" x2="320.00" y2="275.50" stroke="#000" stroke-width="1.0"/>
<line x1="556.20" y1="275.50" x2="551.70" y2="275.50" stroke="#000" stroke-width="1.0"/>
<line x1="315.50" y1="257.50" x2="320.00" y2="257.50" stroke="#000" stroke-width="1.0"/>
<line x1="556.20" y1="257.50" x2="551.70" y2="257.50" stroke="#000" stroke-width="1.0"/>
<line x1="315.50" y1="238.50" x2="320.00" y2="238.50" stroke="#000" stroke-width="1.0"/>
<line x1="556.20" y1="238.50" x2="551.70" y2="238.50" stroke="#000" stroke-width="1.0"/>
<line x1="315.50" y1="219.50" x2="320.00" y2="219.50" stroke="#000" stroke-width="1.0"/>
<line x1="556.20" y1="219.50" x2="551.70" y2="219.50" stroke="#000" stroke-width="1.0"/>
<text x="315.70" y="376.30" font-size="7" font-family='"Liberation Sans", sans-serif' text-anchor="middle" >0</text>
<text x="355.90" y="376.30" font-size="7" font-family='"Liberation Sans", sans-serif' text-anchor="middle" >1</text>
<text x="396.10" y="376.30" font-size="7" font-family='"Liberation Sans", sans-serif' text-anchor="middle" >2</text>
<text x="436.30" y="376.30" font-size="7" font-family='"Liberation Sans", sans-serif' text-anchor="middle" >3</text>
<text x="476.50" y="376.30" font-size="7" font-family='"Liberation Sans", sans-serif' text-anchor="middle" >4</text>
<text x="516.70" y="376.30" font-size="7" font-family='"Liberation Sans", sans-serif' text-anchor="middle" >5</text>
<text x="314.80" y="373.10" font-size="7" font-family='"Liberation Sans", sans-serif' text-anchor="end" >0</text>
<text x="314.80" y="354.27" font-size="7" font-family='"Liberation Sans", sans-serif' text-anchor="end" >0.1</text>
<text x="314.80" y="335.44" font-size="7" font-family='"Liberation Sans", sans-serif' text-anchor="end" >0.2</text>
<text x="314.80" y="316.61" font-size="7" font-family='"Liberation Sans", sans-serif' text-anchor="end" >0.3</text>
<text x="314.80" y="297.78" font-size="7" font-family='"Liberation Sans", sans-serif' text-anchor="end" >0.4</text>
<text x="314.80" y="278.95" font-size="7" font-family='"Liberation Sans", sans-serif' text-anchor="end" >0.5</text>
<text x="314.80" y="260.12" font-size="7" font-family='"Liberation Sans", sans-serif' text-anchor="end" >0.6</text>
<text x="314.80" y="241.29" font-size="7" font-family='"Liberation Sans", sans-serif' text-anchor="end" >0.7</text>
<text x="314.80" y="222.46" font-size="7" font-family='"Liberation Sans", sans-serif' text-anchor="end" >0.8</text>
<rect x="315.5" y="201.5" width="241.00" height="169.00" fill="none" stroke="#000" stroke-width="1.5"/>
<line x1="315.50" y1="571.45" x2="315.50" y2="566.95" stroke="#000" stroke-width="1.0"/>
<line x1="315.50" y1="402.40" x2="315.50" y2="406.90" stroke="#000" stroke-width="1.0"/>
<line x1="355.50" y1="571.45" x2="355.50" y2="566.95" stroke="#000" stroke-width="1.0"/>
<line x1="355.50" y1="402.40" x2="355.50" y2="406.90" stroke="#000" stroke-width="1.0"/>
<line x1="396.50" y1="571.45" x2="396.50" y2="566.95" stroke="#000" stroke-width="1.0"/>
<line x1="396.50" y1="402.40" x2="396.50" y2="406.90" stroke="#000" stroke-width="1.0"/>
<line x1="436.50" y1="571.45" x2="436.50" y2="566.95" stroke="#000" stroke-width="1.0"/>
<line x1="436.50" y1="402.40" x2="436.50" y2="406.90" stroke="#000" stroke-width="1.0"/>
<line x1="477.50" y1="571.45" x2="477.50" y2="566.95" stroke="#000" stroke-width="1.0"/>
<line x1="477.50" y1="402.40" x2="477.50" y2="406.90" stroke="#000" stroke-width="1.0"/>
<line x1="517.50" y1="571.45" x2="517.50" y2="566.95" stroke="#000" stroke-width="1.0"/>
<line x1="517.50" y1="402.40" x2="517.50" y2="406.90" stroke="#000" stroke-width="1.0"/>
<line x1="315.40" y1="571.50" x2="319.90" y2="571.50" stroke="#000" stroke-width="1.0"/>
<line x1="556.70" y1="571.50" x2="552.20" y2="571.50" stroke="#000" stroke-width="1.0"/>
<line x1="315.40" y1="539.50" x2="319.90" y2="539.50" stroke="#000" stroke-width="1.0"/>
<line x1="556.70" y1="539.50" x2="552.20" y2="539.50" stroke="#000" stroke-width="1.0"/>
<line x1="315.40" y1="506.50" x2="319.90" y2="506.50" stroke="#000" stroke-width="1.0"/>
<line x1="556.70" y1="506.50" x2="552.20" y2="506.50" stroke="#000" stroke-width="1.0"/>
<line x1="315.40" y1="474.50" x2="319.90" y2="474.50" stroke="#000" stroke-width="1.0"/>
<line x1="556.70" y1="474.50" x2="552.20" y2="474.50" stroke="#000" stroke-width="1.0"/>
<line x1="315.40" y1="442.50" x2="319.90" y2="442.50" stroke="#000" stroke-width="1.0"/>
<line x1="556.70" y1="442.50" x2="552.20" y2="442.50" stroke="#000" stroke-width="1.0"/>
<line x1="315.40" y1="410.50" x2="319.90" y2="410.50" stroke="#000" stroke-width="1.0"/>
<line x1="556.70" y1="410.50" x2="552.20" y2="410.50" stroke="#000" stroke-width="1.0"/>
<line x1="315.40" y1="555.50" x2="317.90" y2="555.50" stroke="#000" stroke-width="1.0"/>
<line x1="556.70" y1="555.50" x2="554.20" y2="555.50" stroke="#000" stroke-width="1.0"/>
<line x1="315.40" y1="523.50" x2="317.90" y2="523.50" stroke="#000" stroke-width="1.0"/>
<line x1="556.70" y1="523.50" x2="554.20" y2="523.50" stroke="#000" stroke-width="1.0"/>
<line x1="315.40" y1="490.50" x2="317.90" y2="490.50" stroke="#000" stroke-width="1.0"/>
<line x1="556.70" y1="490.50" x2="554.20" y2="490.50" stroke="#000" stroke-width="1.0"/>
<line x1="315.40" y1="458.50" x2="317.90" y2="458.50" stroke="#000" stroke-width="1.0"/>
<line x1="556.70" y1="458.50" x2="554.20" y2="458.50" stroke="#000" stroke-width="1.0"/>
<line x1="315.40" y1="426.50" x2="317.90" y2="426.50" stroke="#000" stroke-width="1.0"/>
<line x1="556.70" y1="426.50" x2="554.20" y2="426.50" stroke="#000" stroke-width="1.0"/>
<text x="315.45" y="577.50" font-size="7" font-family='"Liberation Sans", sans-serif' text-anchor="middle" >0</text>
<text x="355.90" y="577.50" font-size="7" font-family='"Liberation Sans", sans-serif' text-anchor="middle" >1</text>
<text x="396.35" y="577.50" font-size="7" font-family='"Liberation Sans", sans-serif' text-anchor="middle" >2</text>
<text x="436.80" y="577.50" font-size="7" font-family='"Liberation Sans", sans-serif' text-anchor="middle" >3</text>
<text x="477.25" y="577.50" font-size="7" font-family='"Liberation Sans", sans-serif' text-anchor="middle" >4</text>
<text x="517.70" y="577.50" font-size="7" font-family='"Liberation Sans", sans-serif' text-anchor="middle" >5</text>
<text x="314.80" y="574.25" font-size="7" font-family='"Liberation Sans", sans-serif' text-anchor="end" >0</text>
<text x="314.80" y="542.10" font-size="7" font-family='"Liberation Sans", sans-serif' text-anchor="end" >0.2</text>
<text x="314.80" y="509.95" font-size="7" font-family='"Liberation Sans", sans-serif' text-anchor="end" >0.4</text>
<text x="314.80" y="477.80" font-size="7" font-family='"Liberation Sans", sans-serif' text-anchor="end" >0.6</text>
<text x="314.80" y="445.65" font-size="7" font-family='"Liberation Sans", sans-serif' text-anchor="end" >0.8</text>
<text x="314.80" y="413.50" font-size="7" font-family='"Liberation Sans", sans-serif' text-anchor="end" >1</text>
<rect x="315.5" y="402.5" width="241.00" height="169.00" fill="none" stroke="#000" stroke-width="1.5"/>
<text x="44.00" y="19.70" font-size="13" font-family='"Liberation Serif", serif' text-anchor="start" font-weight="bold">A</text>
<text x="43.90" y="231.60" font-size="13" font-family='"Liberation Serif", serif' text-anchor="start" font-weight="bold">C</text>
<text x="330.60" y="19.80" font-size="13" font-family='"Liberation Serif", serif' text-anchor="start" font-weight="bold">B</text>
<text x="329.90" y="231.60" font-size="13" font-family='"Liberation Serif", serif' text-anchor="start" font-weight="bold">D</text>
<text x="44.40" y="429.00" font-size="13" font-family='"Liberation Serif", serif' text-anchor="start" font-weight="bold">E</text>
<text x="329.10" y="428.70" font-size="13" font-family='"Liberation Serif", serif' text-anchor="start" font-weight="bold">F</text>
<rect x="217.7" y="10.0" width="41.8" height="20.6" fill="#000"/>
<rect x="215.5" y="7.8" width="41.8" height="20.6" fill="#fff" stroke="#000" stroke-width="0.8"/>
<text x="224" y="23.9" font-size="13.5" font-family='"Liberation Serif", serif'>Cu<tspan dx="0.5" dy="-5.0" font-size="10.5" font-weight="bold">II</tspan></text>
<rect x="217.79999999999998" y="210.0" width="42" height="21.2" fill="#000"/>
<rect x="215.6" y="207.8" width="42" height="21.2" fill="#fff" stroke="#000" stroke-width="0.8"/>
<text x="224.2" y="224.4" font-size="13.5" font-family='"Liberation Serif", serif'>Cu<tspan dx="0.5" dy="-5.0" font-size="10.5" font-weight="bold">I</tspan></text>
<rect x="217.79999999999998" y="412.7" width="42" height="20.9" fill="#000"/>
<rect x="215.6" y="410.5" width="42" height="20.9" fill="#fff" stroke="#000" stroke-width="0.8"/>
<text x="224.3" y="426.5" font-size="13.5" font-family='"Liberation Serif", serif'>Zn<tspan dx="0.5" dy="-5.0" font-size="10.5" font-weight="bold">II</tspan></text>
<text font-family='"Liberation Serif", serif'><tspan x="123.0" y="192.9" font-style="italic" font-size="15">k</tspan><tspan x="134.0" y="192.9" font-style="normal" font-size="15">(</tspan><tspan x="138.6" y="192.9" font-style="normal" font-size="15">Å</tspan><tspan x="150.6" y="186.9" font-style="normal" font-size="10">-1</tspan><tspan x="162.2" y="192.9" font-style="normal" font-size="15">)</tspan></text>
<text font-family='"Liberation Serif", serif'><tspan x="122.2" y="392.9" font-style="italic" font-size="15">k</tspan><tspan x="133.2" y="392.9" font-style="normal" font-size="15">(</tspan><tspan x="137.8" y="392.9" font-style="normal" font-size="15">Å</tspan><tspan x="149.8" y="386.9" font-style="normal" font-size="10">-1</tspan><tspan x="161.4" y="392.9" font-style="normal" font-size="15">)</tspan></text>
<text font-family='"Liberation Serif", serif'><tspan x="123.0" y="595.6" font-style="italic" font-size="15">k</tspan><tspan x="134.0" y="595.6" font-style="normal" font-size="15">(</tspan><tspan x="138.6" y="595.6" font-style="normal" font-size="15">Å</tspan><tspan x="150.6" y="589.6" font-style="normal" font-size="10">-1</tspan><tspan x="162.2" y="595.6" font-style="normal" font-size="15">)</tspan></text>
<text x="429.00" y="191.20" font-size="14" font-family='"Liberation Serif", serif' text-anchor="middle" >R + Δ (Å)</text>
<text x="427.60" y="389.90" font-size="14" font-family='"Liberation Serif", serif' text-anchor="middle" >R + Δ (Å)</text>
<text x="428.80" y="591.30" font-size="14" font-family='"Liberation Serif", serif' text-anchor="middle" >R + Δ (Å)</text>
<text transform="translate(16,0) rotate(-90)" font-family='"Liberation Serif", serif'><tspan x="-105.8" y="0" font-style="normal" font-size="15.5">(</tspan><tspan x="-100.3" y="0" font-style="italic" font-size="15.5">k</tspan><tspan x="-93.4" y="0" font-style="normal" font-size="15.5">)</tspan><tspan x="-83.0" y="0" font-style="normal" font-size="15.5">•</tspan><tspan x="-72.8" y="0" font-style="italic" font-size="15.5">k</tspan><tspan x="-66.0" y="-6.8" font-size="11">3</tspan></text>
<g transform="translate(0,0)" fill="none" stroke="#000" stroke-linecap="round"><path d="M6.2,107.4 Q7.2,107.4 11.4,110.2 T16.7,113.0" stroke-width="1.7"/><path d="M6.0,112.0 Q6.4,113.9 7.9,112.9 L15.2,108.5 Q17.2,107.4 16.0,106.2" stroke-width="0.7"/></g>
<text transform="translate(16,0) rotate(-90)" font-family='"Liberation Serif", serif'><tspan x="-305.6" y="0" font-style="normal" font-size="15.5">(</tspan><tspan x="-300.1" y="0" font-style="italic" font-size="15.5">k</tspan><tspan x="-293.2" y="0" font-style="normal" font-size="15.5">)</tspan><tspan x="-282.8" y="0" font-style="normal" font-size="15.5">•</tspan><tspan x="-272.6" y="0" font-style="italic" font-size="15.5">k</tspan><tspan x="-265.8" y="-6.8" font-size="11">3</tspan></text>
<g transform="translate(0,199.8)" fill="none" stroke="#000" stroke-linecap="round"><path d="M6.2,107.4 Q7.2,107.4 11.4,110.2 T16.7,113.0" stroke-width="1.7"/><path d="M6.0,112.0 Q6.4,113.9 7.9,112.9 L15.2,108.5 Q17.2,107.4 16.0,106.2" stroke-width="0.7"/></g>
<text transform="translate(16,0) rotate(-90)" font-family='"Liberation Serif", serif'><tspan x="-508.3" y="0" font-style="normal" font-size="15.5">(</tspan><tspan x="-502.8" y="0" font-style="italic" font-size="15.5">k</tspan><tspan x="-495.9" y="0" font-style="normal" font-size="15.5">)</tspan><tspan x="-485.5" y="0" font-style="normal" font-size="15.5">•</tspan><tspan x="-475.3" y="0" font-style="italic" font-size="15.5">k</tspan><tspan x="-468.5" y="-6.8" font-size="11">3</tspan></text>
<g transform="translate(0,402.5)" fill="none" stroke="#000" stroke-linecap="round"><path d="M6.2,107.4 Q7.2,107.4 11.4,110.2 T16.7,113.0" stroke-width="1.7"/><path d="M6.0,112.0 Q6.4,113.9 7.9,112.9 L15.2,108.5 Q17.2,107.4 16.0,106.2" stroke-width="0.7"/></g>
<text transform="translate(300.2,88.5) rotate(-90)" font-size="13" font-family='"Liberation Serif", serif' text-anchor="middle">Fourier Transform Magnitude</text>
<text transform="translate(300.2,286.5) rotate(-90)" font-size="13" font-family='"Liberation Serif", serif' text-anchor="middle">Fourier Transform Magnitude</text>
<text transform="translate(300.2,488.5) rotate(-90)" font-size="13" font-family='"Liberation Serif", serif' text-anchor="middle">Fourier Transform Magnitude</text>
<text x="488.00" y="19.50" font-size="11.1" font-family='"Liberation Serif", serif' text-anchor="middle" font-style="italic">Best fit model<tspan font-style="normal">:</tspan></text>
<text x="487.9" y="34" font-size="11" font-family='"Liberation Serif", serif' text-anchor="middle">[Cu<tspan dy="-5.8" font-size="7">II</tspan><tspan dy="5.8">(MeIm)</tspan><tspan dy="1.8" font-size="7">4</tspan><tspan dy="-7.3" font-size="7">ε</tspan><tspan dy="5.5">]</tspan><tspan dy="-5.2" font-size="7">2+</tspan></text>
<text x="487.90" y="218.10" font-size="11.1" font-family='"Liberation Serif", serif' text-anchor="middle" font-style="italic">Best fit model<tspan font-style="normal">:</tspan></text>
<text x="488.6" y="231.9" font-size="11" font-family='"Liberation Serif", serif' text-anchor="middle">[Cu<tspan dy="-5.8" font-size="7">I</tspan><tspan dy="5.8">(MeIm)</tspan><tspan dy="1.8" font-size="7">2</tspan><tspan dy="-7.3" font-size="7">ε</tspan><tspan dy="5.5">]</tspan><tspan dy="-5.2" font-size="7">+</tspan></text>
<text x="488.10" y="422.30" font-size="11.1" font-family='"Liberation Serif", serif' text-anchor="middle" font-style="italic">Best fit model<tspan font-style="normal">:</tspan></text>
<text x="488.1" y="436.5" font-size="11" font-family='"Liberation Serif", serif' text-anchor="middle">[Zn<tspan dy="-5.8" font-size="7">II</tspan><tspan dy="5.8">(MeIm)</tspan><tspan dy="1.8" font-size="7">3</tspan><tspan dy="-7.3" font-size="7">ε</tspan><tspan dy="5.5">(OH</tspan><tspan dy="1.8" font-size="7">2</tspan><tspan dy="-1.8">)]</tspan><tspan dy="-5.2" font-size="7">2+</tspan></text>
</svg></body></html>
